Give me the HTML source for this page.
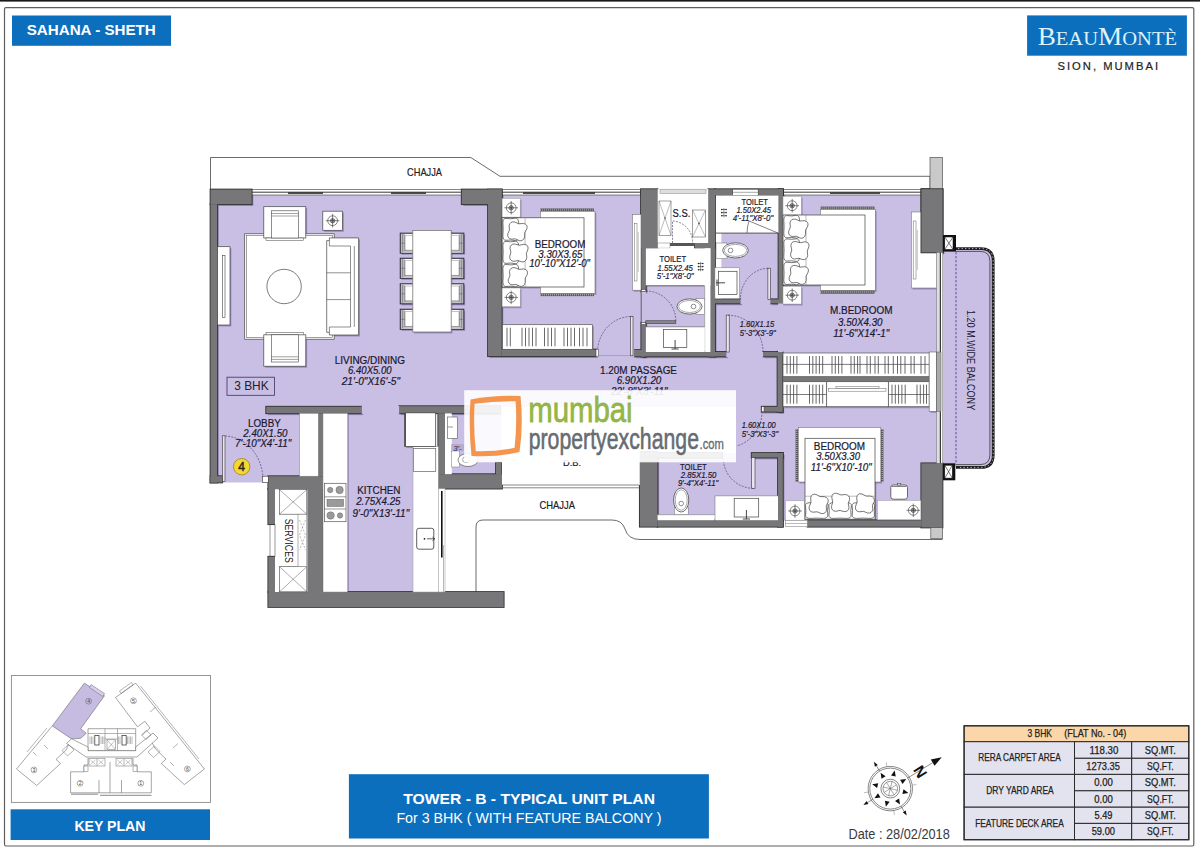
<!DOCTYPE html>
<html><head><meta charset="utf-8"><title>BeauMonte - Tower B Typical Unit Plan</title>
<style>
html,body{margin:0;padding:0;background:#fff}
body{width:1200px;height:852px;overflow:hidden}
svg{display:block}
text{font-family:"Liberation Sans",sans-serif;fill:#1b1830}
.i{font-style:italic}
.b{font-weight:bold}
.w{fill:#fff}
.k{fill:#222}
.serif{font-family:"Liberation Serif",serif}
</style></head><body>
<svg width="1200" height="852" viewBox="0 0 1200 852">
<defs><clipPath id="pc"><rect x="217.2" y="195.0" width="270.8" height="212.0"/><rect x="488.0" y="356.2" width="290.0" height="50.8"/><rect x="217.2" y="406.0" width="82.8" height="76.5"/><rect x="347.5" y="406.0" width="65.5" height="186.0"/><rect x="501.7" y="195.0" width="139.3" height="154.6"/><rect x="645.8" y="285.8" width="58.9" height="41.2"/><rect x="721.0" y="233.0" width="57.6" height="66.5"/><rect x="715.0" y="303.3" width="63.0" height="48.7"/><rect x="783.0" y="195.0" width="154.0" height="158.0"/><rect x="736.0" y="406.0" width="201.0" height="47.2"/><rect x="783.0" y="453.0" width="154.0" height="67.4"/><rect x="657.5" y="453.0" width="120.5" height="62.0"/><rect x="451.3" y="413.3" width="50.2" height="60.9"/><rect x="596.2" y="349.0" width="38.0" height="8.0"/><rect x="640.8" y="291.5" width="5.2" height="31.0"/><rect x="740.4" y="298.8" width="30.1" height="5.2"/><rect x="726.2" y="351.5" width="36.8" height="5.5"/><rect x="778.0" y="303.4" width="5.5" height="48.6"/><rect x="361.7" y="406.0" width="37.5" height="8.0"/><path d="M942.7 250 H981 Q992 250 992 261 V455 Q992 466 981 466 H942.7 Z"/></clipPath><filter id="bl" x="-5%" y="-5%" width="110%" height="110%"><feGaussianBlur stdDeviation="0.7"/></filter></defs>
<rect x="0.0" y="0.0" width="1200.0" height="852.0" fill="#fff" />
<rect x="0.0" y="0.0" width="1200.0" height="1.6" fill="#1a1a1a" />
<rect x="4.5" y="7.7" width="1189.3" height="838.3" fill="none" stroke="#5e5e5e" stroke-width="1.2" rx="1.5"/>
<rect x="12.0" y="15.5" width="159.0" height="30.3" fill="#0C6FBE" />
<text x="26.7" y="35.3" font-size="15" textLength="129.1" lengthAdjust="spacingAndGlyphs" class="b w" >SAHANA - SHETH</text>
<rect x="1027.1" y="15.4" width="159.8" height="40.3" fill="#0C6FBE" />
<text x="1037.7" y="44.6" class="serif" style="fill:#DDF2FB" textLength="139.3" lengthAdjust="spacingAndGlyphs"><tspan font-size="24.5">B</tspan><tspan font-size="18.5">EAU</tspan><tspan font-size="24.5">M</tspan><tspan font-size="18.5">ONTÈ</tspan></text>
<text x="1057.5" y="69.7" font-size="11.2" textLength="100.5" lengthAdjust="spacing" class="k" stroke="#222" stroke-width="0.2">SION, MUMBAI</text>
<path d="M210.5 189.5 V157.5 H470.8 L500 176.3 H930 V189.5" fill="#fff" stroke="#444" stroke-width="0.8" />
<path d="M503.7 592 H476 V527 Q476 520 483 520 H612 Q622 520 625 529 Q628 539.5 640 539.5 H942.5 V527 H639 V485 H503.7 Z" fill="#fff" stroke="none" stroke-width="0" />
<path d="M476 592 V527 Q476 520 483 520 H612 Q622 520 625 529 Q628 539.5 640 539.5 H942.5" fill="none" stroke="#444" stroke-width="0.8" />
<rect x="217.2" y="195.0" width="270.8" height="212.0" fill="#C9BFE4" />
<rect x="488.0" y="356.2" width="290.0" height="50.8" fill="#C9BFE4" />
<rect x="217.2" y="406.0" width="82.8" height="76.5" fill="#C9BFE4" />
<rect x="347.5" y="406.0" width="65.5" height="186.0" fill="#C9BFE4" />
<rect x="501.7" y="195.0" width="139.3" height="154.6" fill="#C9BFE4" />
<rect x="645.8" y="285.8" width="58.9" height="41.2" fill="#C9BFE4" />
<rect x="721.0" y="233.0" width="57.6" height="66.5" fill="#C9BFE4" />
<rect x="715.0" y="303.3" width="63.0" height="48.7" fill="#C9BFE4" />
<rect x="783.0" y="195.0" width="154.0" height="158.0" fill="#C9BFE4" />
<rect x="736.0" y="406.0" width="201.0" height="47.2" fill="#C9BFE4" />
<rect x="783.0" y="453.0" width="154.0" height="67.4" fill="#C9BFE4" />
<rect x="657.5" y="453.0" width="120.5" height="62.0" fill="#C9BFE4" />
<rect x="451.3" y="413.3" width="50.2" height="60.9" fill="#C9BFE4" />
<path d="M942.7 250 H981 Q992 250 992 261 V455 Q992 466 981 466 H942.7 Z" fill="#C9BFE4" stroke="none" stroke-width="0" />
<g clip-path="url(#pc)"><g filter="url(#bl)" fill="#2e1f5c" fill-opacity="0.33"><rect x="212.1" y="191.3" width="41.2" height="14.7"/><rect x="212.1" y="206.0" width="6.7" height="278.3"/><rect x="212.1" y="478.0" width="11.5" height="6.3"/><rect x="463.3" y="191.3" width="40.0" height="14.7"/><rect x="489.6" y="191.3" width="13.7" height="166.7"/><rect x="503.3" y="351.3" width="94.5" height="6.7"/><rect x="635.8" y="351.8" width="10.8" height="6.4"/><rect x="642.6" y="353.7" width="85.2" height="4.5"/><rect x="642.9" y="249.8" width="4.5" height="43.5"/><rect x="642.9" y="324.3" width="4.5" height="33.9"/><rect x="642.6" y="191.0" width="16.6" height="58.9"/><rect x="709.9" y="191.0" width="6.7" height="167.2"/><rect x="696.6" y="244.7" width="20.0" height="5.2"/><rect x="716.6" y="191.0" width="68.0" height="6.3"/><rect x="780.1" y="191.0" width="4.5" height="114.2"/><rect x="716.5" y="301.1" width="25.5" height="4.1"/><rect x="772.1" y="301.1" width="12.0" height="4.1"/><rect x="764.6" y="353.8" width="19.5" height="4.4"/><rect x="779.1" y="353.5" width="5.0" height="60.0"/><rect x="763.3" y="408.5" width="20.8" height="5.0"/><rect x="784.6" y="378.5" width="146.2" height="5.0"/><rect x="923.0" y="191.0" width="21.2" height="63.2"/><rect x="922.9" y="465.1" width="21.2" height="64.2"/><rect x="809.1" y="522.1" width="113.8" height="6.4"/><rect x="641.4" y="453.8" width="17.7" height="74.7"/><rect x="659.1" y="522.1" width="125.3" height="6.4"/><rect x="779.6" y="454.8" width="4.8" height="73.7"/><rect x="753.3" y="454.8" width="31.1" height="4.5"/><rect x="659.1" y="454.8" width="64.5" height="4.5"/><rect x="267.8" y="408.5" width="95.5" height="6.6"/><rect x="400.8" y="408.0" width="100.8" height="7.1"/><rect x="319.9" y="415.1" width="4.7" height="62.9"/><rect x="269.9" y="478.0" width="55.0" height="13.0"/><rect x="309.1" y="490.8" width="15.3" height="103.0"/><rect x="269.9" y="490.8" width="6.7" height="35.2"/><rect x="269.9" y="558.5" width="6.7" height="35.3"/><rect x="269.9" y="593.8" width="235.4" height="15.0"/><rect x="439.9" y="415.1" width="6.7" height="61.2"/><rect x="439.9" y="476.0" width="63.7" height="14.4"/><rect x="497.6" y="464.3" width="5.5" height="12.0"/><rect x="218.8" y="248.2" width="12.5" height="78.3"/><rect x="265.1" y="208.2" width="42.0" height="31.3"/><rect x="267.3" y="239.5" width="37.5" height="2.3"/><rect x="265.1" y="336.3" width="42.0" height="31.4"/><rect x="267.3" y="334.0" width="37.5" height="2.3"/><rect x="328.0" y="239.5" width="31.9" height="97.0"/><rect x="324.1" y="212.7" width="19.7" height="19.1"/><rect x="401.6" y="234.7" width="13.7" height="20.0"/><rect x="451.3" y="234.7" width="13.8" height="20.0"/><rect x="401.6" y="259.8" width="13.7" height="20.0"/><rect x="451.3" y="259.8" width="13.8" height="20.0"/><rect x="401.6" y="285.3" width="13.7" height="20.0"/><rect x="451.3" y="285.3" width="13.8" height="20.0"/><rect x="401.6" y="310.8" width="13.7" height="20.0"/><rect x="451.3" y="310.8" width="13.8" height="20.0"/><rect x="414.1" y="231.9" width="38.4" height="101.6"/><rect x="301.0" y="414.8" width="18.6" height="62.9"/><rect x="324.3" y="414.8" width="24.5" height="178.7"/><rect x="406.1" y="414.3" width="30.9" height="33.8"/><rect x="541.7" y="212.8" width="54.6" height="82.0"/><rect x="503.4" y="199.9" width="18.1" height="18.7"/><rect x="503.4" y="289.5" width="18.1" height="18.7"/><rect x="503.4" y="219.3" width="81.9" height="69.2"/><rect x="633.8" y="216.0" width="8.5" height="75.7"/><rect x="503.8" y="326.2" width="90.0" height="24.6"/><rect x="821.8" y="211.0" width="54.8" height="80.8"/><rect x="784.3" y="197.8" width="18.3" height="18.7"/><rect x="784.3" y="287.8" width="18.3" height="17.7"/><rect x="784.3" y="216.5" width="82.0" height="70.0"/><rect x="912.6" y="213.5" width="25.7" height="76.0"/><rect x="923.0" y="191.0" width="21.2" height="63.2"/><rect x="799.6" y="429.0" width="82.5" height="54.5"/><rect x="786.8" y="502.3" width="19.3" height="19.4"/><rect x="878.8" y="502.0" width="43.4" height="19.3"/><rect x="806.3" y="439.8" width="70.0" height="80.9"/><rect x="784.3" y="354.5" width="146.2" height="23.7"/><rect x="784.3" y="383.2" width="43.7" height="25.0"/><rect x="889.6" y="383.2" width="40.9" height="25.0"/><rect x="828.0" y="383.2" width="61.6" height="25.0"/><rect x="930.5" y="353.5" width="7.5" height="59.3"/></g></g>
<rect x="251.7" y="189.5" width="210.0" height="5.5" fill="#fff" stroke="#333" stroke-width="0.6" />
<line x1="251.7" y1="192.2" x2="461.7" y2="192.2" stroke="#222" stroke-width="0.9" />
<rect x="501.7" y="189.5" width="139.3" height="5.5" fill="#fff" stroke="#333" stroke-width="0.6" />
<line x1="501.7" y1="192.2" x2="641.0" y2="192.2" stroke="#222" stroke-width="0.9" />
<rect x="783.0" y="189.5" width="138.4" height="5.5" fill="#fff" stroke="#333" stroke-width="0.6" />
<line x1="783.0" y1="192.2" x2="921.4" y2="192.2" stroke="#222" stroke-width="0.9" />
<line x1="288.0" y1="193.2" x2="323.0" y2="193.2" stroke="#111" stroke-width="1.3" />
<line x1="391.0" y1="193.2" x2="426.0" y2="193.2" stroke="#111" stroke-width="1.3" />
<line x1="523.0" y1="193.2" x2="595.0" y2="193.2" stroke="#111" stroke-width="1.3" />
<line x1="830.0" y1="193.2" x2="880.0" y2="193.2" stroke="#111" stroke-width="1.3" />
<rect x="210.5" y="189.5" width="41.2" height="14.7" fill="#777779" stroke="#2e2e2e" stroke-width="1.7" />
<rect x="210.5" y="204.2" width="6.7" height="278.3" fill="#777779" stroke="#2e2e2e" stroke-width="1.7" />
<rect x="210.5" y="476.2" width="11.5" height="6.3" fill="#777779" stroke="#2e2e2e" stroke-width="1.7" />
<rect x="461.7" y="189.5" width="40.0" height="14.7" fill="#777779" stroke="#2e2e2e" stroke-width="1.7" />
<rect x="488.0" y="189.5" width="13.7" height="166.7" fill="#777779" stroke="#2e2e2e" stroke-width="1.7" />
<rect x="501.7" y="349.5" width="94.5" height="6.7" fill="#777779" stroke="#2e2e2e" stroke-width="1.7" />
<rect x="634.2" y="350.0" width="10.8" height="6.4" fill="#777779" stroke="#2e2e2e" stroke-width="1.7" />
<rect x="641.0" y="351.9" width="85.2" height="4.5" fill="#777779" stroke="#2e2e2e" stroke-width="1.7" />
<rect x="641.3" y="248.0" width="4.5" height="43.5" fill="#777779" stroke="#2e2e2e" stroke-width="1.7" />
<rect x="641.3" y="322.5" width="4.5" height="33.9" fill="#777779" stroke="#2e2e2e" stroke-width="1.7" />
<rect x="641.0" y="189.2" width="16.6" height="58.9" fill="#777779" stroke="#2e2e2e" stroke-width="1.7" />
<rect x="708.3" y="189.2" width="6.7" height="167.2" fill="#777779" stroke="#2e2e2e" stroke-width="1.7" />
<rect x="695.0" y="242.9" width="20.0" height="5.2" fill="#777779" stroke="#2e2e2e" stroke-width="1.7" />
<rect x="715.0" y="189.2" width="68.0" height="6.3" fill="#777779" stroke="#2e2e2e" stroke-width="1.7" />
<rect x="778.5" y="189.2" width="4.5" height="114.2" fill="#777779" stroke="#2e2e2e" stroke-width="1.7" />
<rect x="714.9" y="299.3" width="25.5" height="4.1" fill="#777779" stroke="#2e2e2e" stroke-width="1.7" />
<rect x="770.5" y="299.3" width="12.0" height="4.1" fill="#777779" stroke="#2e2e2e" stroke-width="1.7" />
<rect x="763.0" y="352.0" width="19.5" height="4.4" fill="#777779" stroke="#2e2e2e" stroke-width="1.7" />
<rect x="777.5" y="351.7" width="5.0" height="60.0" fill="#777779" stroke="#2e2e2e" stroke-width="1.7" />
<rect x="761.7" y="406.7" width="20.8" height="5.0" fill="#777779" stroke="#2e2e2e" stroke-width="1.7" />
<rect x="783.0" y="376.7" width="146.2" height="5.0" fill="#777779" stroke="#2e2e2e" stroke-width="1.7" />
<rect x="921.4" y="189.2" width="21.2" height="63.2" fill="#777779" stroke="#2e2e2e" stroke-width="1.7" />
<rect x="921.3" y="463.3" width="21.2" height="64.2" fill="#777779" stroke="#2e2e2e" stroke-width="1.7" />
<rect x="807.5" y="520.3" width="113.8" height="6.4" fill="#777779" stroke="#2e2e2e" stroke-width="1.7" />
<rect x="639.8" y="452.0" width="17.7" height="74.7" fill="#777779" stroke="#2e2e2e" stroke-width="1.7" />
<rect x="657.5" y="520.3" width="125.3" height="6.4" fill="#777779" stroke="#2e2e2e" stroke-width="1.7" />
<rect x="778.0" y="453.0" width="4.8" height="73.7" fill="#777779" stroke="#2e2e2e" stroke-width="1.7" />
<rect x="751.7" y="453.0" width="31.1" height="4.5" fill="#777779" stroke="#2e2e2e" stroke-width="1.7" />
<rect x="657.5" y="453.0" width="64.5" height="4.5" fill="#777779" stroke="#2e2e2e" stroke-width="1.7" />
<rect x="266.2" y="406.7" width="95.5" height="6.6" fill="#777779" stroke="#2e2e2e" stroke-width="1.7" />
<rect x="399.2" y="406.2" width="100.8" height="7.1" fill="#777779" stroke="#2e2e2e" stroke-width="1.7" />
<rect x="318.3" y="413.3" width="4.7" height="62.9" fill="#777779" stroke="#2e2e2e" stroke-width="1.7" />
<rect x="268.3" y="476.2" width="55.0" height="13.0" fill="#777779" stroke="#2e2e2e" stroke-width="1.7" />
<rect x="307.5" y="489.0" width="15.3" height="103.0" fill="#777779" stroke="#2e2e2e" stroke-width="1.7" />
<rect x="268.3" y="489.0" width="6.7" height="35.2" fill="#777779" stroke="#2e2e2e" stroke-width="1.7" />
<rect x="268.3" y="556.7" width="6.7" height="35.3" fill="#777779" stroke="#2e2e2e" stroke-width="1.7" />
<rect x="268.3" y="592.0" width="235.4" height="15.0" fill="#777779" stroke="#2e2e2e" stroke-width="1.7" />
<rect x="438.3" y="413.3" width="6.7" height="61.2" fill="#777779" stroke="#2e2e2e" stroke-width="1.7" />
<rect x="438.3" y="474.2" width="63.7" height="14.4" fill="#777779" stroke="#2e2e2e" stroke-width="1.7" />
<rect x="496.0" y="462.5" width="5.5" height="12.0" fill="#777779" stroke="#2e2e2e" stroke-width="1.7" />
<rect x="210.5" y="189.5" width="41.2" height="14.7" fill="#777779" />
<rect x="210.5" y="204.2" width="6.7" height="278.3" fill="#777779" />
<rect x="210.5" y="476.2" width="11.5" height="6.3" fill="#777779" />
<rect x="461.7" y="189.5" width="40.0" height="14.7" fill="#777779" />
<rect x="488.0" y="189.5" width="13.7" height="166.7" fill="#777779" />
<rect x="501.7" y="349.5" width="94.5" height="6.7" fill="#777779" />
<rect x="634.2" y="350.0" width="10.8" height="6.4" fill="#777779" />
<rect x="641.0" y="351.9" width="85.2" height="4.5" fill="#777779" />
<rect x="641.3" y="248.0" width="4.5" height="43.5" fill="#777779" />
<rect x="641.3" y="322.5" width="4.5" height="33.9" fill="#777779" />
<rect x="641.0" y="189.2" width="16.6" height="58.9" fill="#777779" />
<rect x="708.3" y="189.2" width="6.7" height="167.2" fill="#777779" />
<rect x="695.0" y="242.9" width="20.0" height="5.2" fill="#777779" />
<rect x="715.0" y="189.2" width="68.0" height="6.3" fill="#777779" />
<rect x="778.5" y="189.2" width="4.5" height="114.2" fill="#777779" />
<rect x="714.9" y="299.3" width="25.5" height="4.1" fill="#777779" />
<rect x="770.5" y="299.3" width="12.0" height="4.1" fill="#777779" />
<rect x="763.0" y="352.0" width="19.5" height="4.4" fill="#777779" />
<rect x="777.5" y="351.7" width="5.0" height="60.0" fill="#777779" />
<rect x="761.7" y="406.7" width="20.8" height="5.0" fill="#777779" />
<rect x="783.0" y="376.7" width="146.2" height="5.0" fill="#777779" />
<rect x="921.4" y="189.2" width="21.2" height="63.2" fill="#777779" />
<rect x="921.3" y="463.3" width="21.2" height="64.2" fill="#777779" />
<rect x="807.5" y="520.3" width="113.8" height="6.4" fill="#777779" />
<rect x="639.8" y="452.0" width="17.7" height="74.7" fill="#777779" />
<rect x="657.5" y="520.3" width="125.3" height="6.4" fill="#777779" />
<rect x="778.0" y="453.0" width="4.8" height="73.7" fill="#777779" />
<rect x="751.7" y="453.0" width="31.1" height="4.5" fill="#777779" />
<rect x="657.5" y="453.0" width="64.5" height="4.5" fill="#777779" />
<rect x="266.2" y="406.7" width="95.5" height="6.6" fill="#777779" />
<rect x="399.2" y="406.2" width="100.8" height="7.1" fill="#777779" />
<rect x="318.3" y="413.3" width="4.7" height="62.9" fill="#777779" />
<rect x="268.3" y="476.2" width="55.0" height="13.0" fill="#777779" />
<rect x="307.5" y="489.0" width="15.3" height="103.0" fill="#777779" />
<rect x="268.3" y="489.0" width="6.7" height="35.2" fill="#777779" />
<rect x="268.3" y="556.7" width="6.7" height="35.3" fill="#777779" />
<rect x="268.3" y="592.0" width="235.4" height="15.0" fill="#777779" />
<rect x="438.3" y="413.3" width="6.7" height="61.2" fill="#777779" />
<rect x="438.3" y="474.2" width="63.7" height="14.4" fill="#777779" />
<rect x="496.0" y="462.5" width="5.5" height="12.0" fill="#777779" />
<rect x="732.7" y="189.2" width="25.5" height="6.3" fill="#fff" stroke="#333" stroke-width="0.6" />
<line x1="732.7" y1="192.3" x2="758.2" y2="192.3" stroke="#555" stroke-width="0.5" />
<rect x="930.0" y="157.4" width="12.6" height="31.8" fill="#C9C9C9" stroke="#555" stroke-width="0.7" />
<rect x="930.8" y="527.5" width="11.7" height="11.2" fill="#C9C9C9" stroke="#555" stroke-width="0.7" />
<rect x="596.2" y="349.0" width="38.0" height="8.0" fill="#C9BFE4" />
<rect x="640.8" y="291.5" width="5.2" height="31.0" fill="#C9BFE4" />
<rect x="740.4" y="298.8" width="30.1" height="5.2" fill="#C9BFE4" />
<rect x="726.2" y="351.5" width="36.8" height="5.5" fill="#C9BFE4" />
<rect x="778.0" y="303.4" width="5.5" height="48.6" fill="#C9BFE4" />
<rect x="361.7" y="406.0" width="37.5" height="8.0" fill="#C9BFE4" />
<rect x="217.5" y="246.7" width="12.5" height="78.3" fill="#fff" stroke="#444" stroke-width="0.7" />
<rect x="222.3" y="255.5" width="2.7" height="62.0" fill="#fff" stroke="#444" stroke-width="0.6" />
<rect x="244.7" y="233.8" width="89.5" height="105.4" fill="#fff" stroke="#444" stroke-width="0.7" />
<rect x="246.6" y="235.7" width="85.7" height="101.6" fill="none" stroke="#444" stroke-width="0.5" />
<circle cx="284.1" cy="286.5" r="17.2" fill="#fff" stroke="#444" stroke-width="0.7"/>
<rect x="263.8" y="206.7" width="42.0" height="31.3" fill="#fff" stroke="#444" stroke-width="0.7" />
<rect x="266.0" y="238.0" width="37.5" height="2.3" fill="#fff" stroke="#444" stroke-width="0.5" />
<rect x="271.3" y="210.8" width="27.0" height="27.2" fill="#fff" stroke="#444" stroke-width="0.6" />
<line x1="271.3" y1="213.5" x2="298.3" y2="213.5" stroke="#444" stroke-width="0.5" />
<line x1="271.3" y1="216.0" x2="298.3" y2="216.0" stroke="#444" stroke-width="0.5" />
<rect x="263.8" y="334.8" width="42.0" height="31.4" fill="#fff" stroke="#444" stroke-width="0.7" />
<rect x="266.0" y="332.5" width="37.5" height="2.3" fill="#fff" stroke="#444" stroke-width="0.5" />
<rect x="271.3" y="334.8" width="27.0" height="27.2" fill="#fff" stroke="#444" stroke-width="0.6" />
<line x1="271.3" y1="356.8" x2="298.3" y2="356.8" stroke="#444" stroke-width="0.5" />
<line x1="271.3" y1="359.4" x2="298.3" y2="359.4" stroke="#444" stroke-width="0.5" />
<path d="M326.7 240.6 H329.4 V237.9 H358.6 V335 H329.4 V332.3 H326.7 Z" fill="#fff" stroke="#444" stroke-width="0.7" />
<path d="M329.4 240.6 V246 H350.5 M329.4 332.3 V327 H350.5" fill="none" stroke="#444" stroke-width="0.6" />
<line x1="350.5" y1="246.0" x2="350.5" y2="327.0" stroke="#444" stroke-width="0.6" />
<line x1="354.3" y1="246.0" x2="354.3" y2="327.0" stroke="#444" stroke-width="0.6" />
<line x1="326.7" y1="272.8" x2="350.5" y2="272.8" stroke="#444" stroke-width="0.6" />
<line x1="326.7" y1="299.6" x2="350.5" y2="299.6" stroke="#444" stroke-width="0.6" />
<rect x="322.8" y="211.2" width="19.7" height="19.1" fill="#fff" stroke="#444" stroke-width="0.7" />
<circle cx="332.6" cy="220.7" r="4.9" fill="none" stroke="#333" stroke-width="0.6"/>
<circle cx="332.6" cy="220.7" r="2.2" fill="#c4c4c8" stroke="#333" stroke-width="0.6"/>
<line x1="325.8" y1="220.7" x2="339.4" y2="220.7" stroke="#333" stroke-width="0.6" />
<line x1="332.6" y1="213.9" x2="332.6" y2="227.5" stroke="#333" stroke-width="0.6" />
<circle cx="332.6" cy="220.7" r="0.9" fill="none" stroke="#333" stroke-width="0.5"/>
<rect x="400.3" y="233.2" width="13.7" height="20.0" fill="#fff" stroke="#33303f" stroke-width="1.1" />
<rect x="401.1" y="234.0" width="3.8" height="18.4" fill="#b9b9bd" />
<rect x="404.9" y="249.8" width="9.1" height="2.6" fill="#c4c4c8" />
<line x1="402.5" y1="234.2" x2="402.5" y2="252.2" stroke="#666" stroke-width="0.5" />
<line x1="404.9" y1="235.4" x2="404.9" y2="251.0" stroke="#555" stroke-width="0.6" />
<line x1="404.9" y1="235.4" x2="414.0" y2="235.4" stroke="#888" stroke-width="0.5" />
<line x1="404.9" y1="250.4" x2="414.0" y2="250.4" stroke="#777" stroke-width="0.5" />
<line x1="401.3" y1="243.2" x2="404.9" y2="243.2" stroke="#555" stroke-width="0.5" />
<rect x="450.0" y="233.2" width="13.8" height="20.0" fill="#fff" stroke="#33303f" stroke-width="1.1" />
<rect x="459.2" y="234.0" width="3.8" height="18.4" fill="#b9b9bd" />
<rect x="450.0" y="249.8" width="9.2" height="2.6" fill="#c4c4c8" />
<line x1="461.6" y1="234.2" x2="461.6" y2="252.2" stroke="#666" stroke-width="0.5" />
<line x1="459.2" y1="235.4" x2="459.2" y2="251.0" stroke="#555" stroke-width="0.6" />
<line x1="450.0" y1="235.4" x2="459.2" y2="235.4" stroke="#888" stroke-width="0.5" />
<line x1="450.0" y1="250.4" x2="459.2" y2="250.4" stroke="#777" stroke-width="0.5" />
<line x1="459.2" y1="243.2" x2="462.8" y2="243.2" stroke="#555" stroke-width="0.5" />
<rect x="400.3" y="258.3" width="13.7" height="20.0" fill="#fff" stroke="#33303f" stroke-width="1.1" />
<rect x="401.1" y="259.1" width="3.8" height="18.4" fill="#b9b9bd" />
<rect x="404.9" y="274.9" width="9.1" height="2.6" fill="#c4c4c8" />
<line x1="402.5" y1="259.3" x2="402.5" y2="277.3" stroke="#666" stroke-width="0.5" />
<line x1="404.9" y1="260.5" x2="404.9" y2="276.1" stroke="#555" stroke-width="0.6" />
<line x1="404.9" y1="260.5" x2="414.0" y2="260.5" stroke="#888" stroke-width="0.5" />
<line x1="404.9" y1="275.5" x2="414.0" y2="275.5" stroke="#777" stroke-width="0.5" />
<line x1="401.3" y1="268.3" x2="404.9" y2="268.3" stroke="#555" stroke-width="0.5" />
<rect x="450.0" y="258.3" width="13.8" height="20.0" fill="#fff" stroke="#33303f" stroke-width="1.1" />
<rect x="459.2" y="259.1" width="3.8" height="18.4" fill="#b9b9bd" />
<rect x="450.0" y="274.9" width="9.2" height="2.6" fill="#c4c4c8" />
<line x1="461.6" y1="259.3" x2="461.6" y2="277.3" stroke="#666" stroke-width="0.5" />
<line x1="459.2" y1="260.5" x2="459.2" y2="276.1" stroke="#555" stroke-width="0.6" />
<line x1="450.0" y1="260.5" x2="459.2" y2="260.5" stroke="#888" stroke-width="0.5" />
<line x1="450.0" y1="275.5" x2="459.2" y2="275.5" stroke="#777" stroke-width="0.5" />
<line x1="459.2" y1="268.3" x2="462.8" y2="268.3" stroke="#555" stroke-width="0.5" />
<rect x="400.3" y="283.8" width="13.7" height="20.0" fill="#fff" stroke="#33303f" stroke-width="1.1" />
<rect x="401.1" y="284.6" width="3.8" height="18.4" fill="#b9b9bd" />
<rect x="404.9" y="300.4" width="9.1" height="2.6" fill="#c4c4c8" />
<line x1="402.5" y1="284.8" x2="402.5" y2="302.8" stroke="#666" stroke-width="0.5" />
<line x1="404.9" y1="286.0" x2="404.9" y2="301.6" stroke="#555" stroke-width="0.6" />
<line x1="404.9" y1="286.0" x2="414.0" y2="286.0" stroke="#888" stroke-width="0.5" />
<line x1="404.9" y1="301.0" x2="414.0" y2="301.0" stroke="#777" stroke-width="0.5" />
<line x1="401.3" y1="293.8" x2="404.9" y2="293.8" stroke="#555" stroke-width="0.5" />
<rect x="450.0" y="283.8" width="13.8" height="20.0" fill="#fff" stroke="#33303f" stroke-width="1.1" />
<rect x="459.2" y="284.6" width="3.8" height="18.4" fill="#b9b9bd" />
<rect x="450.0" y="300.4" width="9.2" height="2.6" fill="#c4c4c8" />
<line x1="461.6" y1="284.8" x2="461.6" y2="302.8" stroke="#666" stroke-width="0.5" />
<line x1="459.2" y1="286.0" x2="459.2" y2="301.6" stroke="#555" stroke-width="0.6" />
<line x1="450.0" y1="286.0" x2="459.2" y2="286.0" stroke="#888" stroke-width="0.5" />
<line x1="450.0" y1="301.0" x2="459.2" y2="301.0" stroke="#777" stroke-width="0.5" />
<line x1="459.2" y1="293.8" x2="462.8" y2="293.8" stroke="#555" stroke-width="0.5" />
<rect x="400.3" y="309.3" width="13.7" height="20.0" fill="#fff" stroke="#33303f" stroke-width="1.1" />
<rect x="401.1" y="310.1" width="3.8" height="18.4" fill="#b9b9bd" />
<rect x="404.9" y="325.9" width="9.1" height="2.6" fill="#c4c4c8" />
<line x1="402.5" y1="310.3" x2="402.5" y2="328.3" stroke="#666" stroke-width="0.5" />
<line x1="404.9" y1="311.5" x2="404.9" y2="327.1" stroke="#555" stroke-width="0.6" />
<line x1="404.9" y1="311.5" x2="414.0" y2="311.5" stroke="#888" stroke-width="0.5" />
<line x1="404.9" y1="326.5" x2="414.0" y2="326.5" stroke="#777" stroke-width="0.5" />
<line x1="401.3" y1="319.3" x2="404.9" y2="319.3" stroke="#555" stroke-width="0.5" />
<rect x="450.0" y="309.3" width="13.8" height="20.0" fill="#fff" stroke="#33303f" stroke-width="1.1" />
<rect x="459.2" y="310.1" width="3.8" height="18.4" fill="#b9b9bd" />
<rect x="450.0" y="325.9" width="9.2" height="2.6" fill="#c4c4c8" />
<line x1="461.6" y1="310.3" x2="461.6" y2="328.3" stroke="#666" stroke-width="0.5" />
<line x1="459.2" y1="311.5" x2="459.2" y2="327.1" stroke="#555" stroke-width="0.6" />
<line x1="450.0" y1="311.5" x2="459.2" y2="311.5" stroke="#888" stroke-width="0.5" />
<line x1="450.0" y1="326.5" x2="459.2" y2="326.5" stroke="#777" stroke-width="0.5" />
<line x1="459.2" y1="319.3" x2="462.8" y2="319.3" stroke="#555" stroke-width="0.5" />
<rect x="412.8" y="230.4" width="38.4" height="101.6" fill="#fff" stroke="#777" stroke-width="0.8" />
<rect x="227.0" y="377.2" width="47.5" height="18.1" fill="none" stroke="#3a3360" stroke-width="0.8" />
<text x="234.2" y="390.2" font-size="12" textLength="34.5" lengthAdjust="spacingAndGlyphs" class="k" >3 BHK</text>
<rect x="299.7" y="413.3" width="18.6" height="62.9" fill="#fff" stroke="#888" stroke-width="0.5" />
<rect x="323.0" y="413.3" width="24.5" height="178.7" fill="#fff" stroke="#888" stroke-width="0.5" />
<rect x="222.5" y="435.8" width="2.5" height="45.9" fill="#e9e4f4" stroke="#333" stroke-width="0.6" />
<path d="M225 436 A 39 44 0 0 1 263 479" fill="none" stroke="#3a3360" stroke-width="0.6" stroke-dasharray="2 1.2"/>
<rect x="262.5" y="476.2" width="5.8" height="6.3" fill="#fff" stroke="#333" stroke-width="0.6" />
<circle cx="241.7" cy="466.7" r="8.2" fill="#F4D730" stroke="#8a7a20" stroke-width="0.7"/>
<text x="241.7" y="471" font-size="12" text-anchor="middle" class="k" stroke="#222" stroke-width="0.4">4</text>
<rect x="275.0" y="489.2" width="32.5" height="102.8" fill="#fff" />
<line x1="275.0" y1="524.2" x2="275.0" y2="556.7" stroke="#555" stroke-width="0.6" />
<line x1="270.0" y1="524.2" x2="270.0" y2="556.7" stroke="#555" stroke-width="0.6" />
<rect x="279.5" y="489.6" width="27.3" height="24.6" fill="#fff" stroke="#444" stroke-width="0.6" />
<line x1="279.5" y1="489.6" x2="306.8" y2="514.2" stroke="#555" stroke-width="0.48" />
<line x1="279.5" y1="514.2" x2="306.8" y2="489.6" stroke="#555" stroke-width="0.48" />
<rect x="279.5" y="566.7" width="27.3" height="25.1" fill="#fff" stroke="#444" stroke-width="0.6" />
<line x1="279.5" y1="566.7" x2="306.8" y2="591.8" stroke="#555" stroke-width="0.48" />
<line x1="279.5" y1="591.8" x2="306.8" y2="566.7" stroke="#555" stroke-width="0.48" />
<rect x="298.0" y="514.2" width="8.8" height="52.5" fill="#fff" stroke="#666" stroke-width="0.5" />
<path d="M299.5 520 L305.5 535 L299.5 550 M305.5 520 L299.5 535 L305.5 550" fill="none" stroke="#777" stroke-width="0.5" stroke-dasharray="2 1.5"/>
<text transform="translate(285.2,518.7) rotate(90)" font-size="10" textLength="44.1" lengthAdjust="spacingAndGlyphs" class="k">SERVICES</text>
<rect x="324.6" y="483.3" width="21.4" height="38.4" fill="#fff" stroke="#555" stroke-width="0.7" />
<line x1="324.6" y1="496.8" x2="346.0" y2="496.8" stroke="#555" stroke-width="0.6" />
<line x1="324.6" y1="509.0" x2="346.0" y2="509.0" stroke="#555" stroke-width="0.6" />
<circle cx="330.2" cy="490" r="2.7" fill="#9a9a9a" stroke="#666" stroke-width="0.5"/>
<circle cx="339.6" cy="490" r="3.7" fill="#9a9a9a" stroke="#666" stroke-width="0.5"/>
<circle cx="330.6" cy="515.5" r="3.7" fill="#9a9a9a" stroke="#666" stroke-width="0.5"/>
<circle cx="340" cy="515.5" r="2.7" fill="#9a9a9a" stroke="#666" stroke-width="0.5"/>
<rect x="327.0" y="499.3" width="16.6" height="7.2" fill="#9a9a9a" stroke="#666" stroke-width="0.5" />
<rect x="413.0" y="446.7" width="25.3" height="145.3" fill="#fff" stroke="#999" stroke-width="0.5" />
<rect x="404.8" y="412.8" width="30.9" height="33.8" fill="#fff" stroke="#444" stroke-width="0.8" />
<line x1="405.2" y1="413.0" x2="405.2" y2="446.4" stroke="#333" stroke-width="1.2" />
<rect x="413.4" y="448.5" width="22.3" height="22.9" fill="#fff" stroke="#777" stroke-width="0.8" />
<rect x="416.7" y="528.3" width="17.1" height="20.9" fill="#fff" stroke="#333" stroke-width="0.8" rx="2.2"/>
<circle cx="424.5" cy="538.8" r="0.9" fill="#222"/>
<path d="M427 538.8 H434.5 M432.5 537 L434.8 538.8 L432.5 540.6" fill="none" stroke="#222" stroke-width="0.7" />
<rect x="438.3" y="488.6" width="6.7" height="103.4" fill="#fff" stroke="#999" stroke-width="0.5" />
<line x1="441.8" y1="491.0" x2="441.8" y2="557.5" stroke="#111" stroke-width="1.6" />
<line x1="443.5" y1="545.0" x2="443.5" y2="592.0" stroke="#888" stroke-width="0.6" />
<rect x="445.0" y="413.3" width="6.7" height="60.9" fill="#fff" />
<rect x="447.5" y="417.0" width="10.0" height="21.3" fill="#fff" stroke="#555" stroke-width="0.6" />
<line x1="447.5" y1="427.0" x2="453.0" y2="427.0" stroke="#555" stroke-width="0.6" />
<rect x="451.3" y="451.0" width="8.2" height="16.0" fill="#fff" stroke="#777" stroke-width="0.5" />
<ellipse cx="468" cy="460" rx="10" ry="6.5" fill="#fff" stroke="#444" stroke-width="0.6"/><ellipse cx="466" cy="459.6" rx="3.4" ry="3" fill="none" stroke="#555" stroke-width="0.5"/>
<rect x="451.3" y="444.0" width="12.7" height="7.0" fill="#b5abd2" />
<text x="453.5" y="450.6" font-size="7.5" class="i">3'-</text>
<rect x="502.0" y="440.0" width="137.8" height="45.0" fill="#fff" />
<line x1="502.0" y1="485.0" x2="639.0" y2="485.0" stroke="#555" stroke-width="0.7" />
<line x1="502.0" y1="487.8" x2="639.0" y2="487.8" stroke="#555" stroke-width="0.7" />
<rect x="540.4" y="208.5" width="53.6" height="2.8" fill="#555" />
<path d="M540.4 209.9 H594.0" stroke="#ddd" stroke-width="1.4" stroke-dasharray="0.7 1.3" fill="none"/>
<rect x="540.4" y="293.3" width="53.6" height="2.8" fill="#555" />
<path d="M540.4 294.7 H594.0" stroke="#ddd" stroke-width="1.4" stroke-dasharray="0.7 1.3" fill="none"/>
<rect x="540.4" y="211.3" width="54.6" height="82.0" fill="#fff" stroke="#777" stroke-width="0.6" />
<rect x="502.1" y="198.4" width="18.1" height="18.7" fill="#fff" stroke="#999" stroke-width="0.5" />
<circle cx="511.2" cy="207.8" r="4.9" fill="none" stroke="#333" stroke-width="0.6"/>
<circle cx="511.2" cy="207.8" r="2.2" fill="#c4c4c8" stroke="#333" stroke-width="0.6"/>
<line x1="504.4" y1="207.8" x2="518.0" y2="207.8" stroke="#333" stroke-width="0.6" />
<line x1="511.2" y1="201.0" x2="511.2" y2="214.6" stroke="#333" stroke-width="0.6" />
<circle cx="511.2" cy="207.8" r="0.9" fill="none" stroke="#333" stroke-width="0.5"/>
<rect x="502.1" y="288.0" width="18.1" height="18.7" fill="#fff" stroke="#999" stroke-width="0.5" />
<circle cx="511.2" cy="297.4" r="4.9" fill="none" stroke="#333" stroke-width="0.6"/>
<circle cx="511.2" cy="297.4" r="2.2" fill="#c4c4c8" stroke="#333" stroke-width="0.6"/>
<line x1="504.4" y1="297.4" x2="518.0" y2="297.4" stroke="#333" stroke-width="0.6" />
<line x1="511.2" y1="290.6" x2="511.2" y2="304.2" stroke="#333" stroke-width="0.6" />
<circle cx="511.2" cy="297.4" r="0.9" fill="none" stroke="#333" stroke-width="0.5"/>
<rect x="502.1" y="217.8" width="81.9" height="69.2" fill="#fff" stroke="#444" stroke-width="0.7" />
<line x1="525.1" y1="217.8" x2="525.1" y2="287.0" stroke="#777" stroke-width="0.5" />
<path d="M502.9 222.8 Q503.5 229.3 502.9 235.9 Q502.9 240.3 506.0 240.3 Q510.8 239.6 515.5 240.6 Q518.6 240.7 518.6 236.2 Q518.0 229.4 518.6 222.7 Q518.6 218.2 515.5 218.2 Q510.8 219.2 506.0 218.4 Q502.9 218.4 502.9 222.8 Z" fill="#fff" stroke="#2f2f2f" stroke-width="0.65" stroke-linejoin="round"/>
<path d="M502.9 245.8 Q503.5 252.4 502.9 259.0 Q502.9 263.3 506.0 263.4 Q510.8 262.6 515.5 263.7 Q518.6 263.7 518.6 259.2 Q518.0 252.5 518.6 245.8 Q518.6 241.3 515.5 241.3 Q510.8 242.3 506.0 241.4 Q502.9 241.5 502.9 245.8 Z" fill="#fff" stroke="#2f2f2f" stroke-width="0.65" stroke-linejoin="round"/>
<path d="M502.9 268.9 Q503.5 275.5 502.9 282.0 Q502.9 286.4 506.0 286.5 Q510.8 285.7 515.5 286.7 Q518.6 286.8 518.6 282.3 Q518.0 275.6 518.6 268.8 Q518.6 264.3 515.5 264.4 Q510.8 265.3 506.0 264.5 Q502.9 264.5 502.9 268.9 Z" fill="#fff" stroke="#2f2f2f" stroke-width="0.65" stroke-linejoin="round"/>
<path d="M509.1 225.7 Q510.5 230.1 507.8 233.8 Q507.1 238.2 511.3 239.1 Q515.7 237.8 519.2 240.7 Q523.4 241.5 524.6 237.0 Q523.7 232.5 526.9 228.7 Q528.1 224.3 523.4 223.5 Q518.5 224.8 514.6 222.0 Q509.8 221.3 509.1 225.7 Z" fill="#fff" stroke="#2f2f2f" stroke-width="0.65" stroke-linejoin="round"/>
<path d="M510.0 248.3 Q511.9 252.5 509.7 256.5 Q509.5 260.9 513.8 261.3 Q518.0 259.5 521.8 261.9 Q526.1 262.3 526.8 257.6 Q525.3 253.3 528.0 249.1 Q528.7 244.5 523.9 244.3 Q519.2 246.3 514.9 244.0 Q510.1 243.8 510.0 248.3 Z" fill="#fff" stroke="#2f2f2f" stroke-width="0.65" stroke-linejoin="round"/>
<path d="M509.5 271.4 Q511.0 275.9 508.3 279.6 Q507.7 284.0 512.0 284.8 Q516.3 283.5 519.8 286.3 Q524.1 287.1 525.2 282.5 Q524.2 278.0 527.3 274.2 Q528.5 269.7 523.7 269.0 Q518.9 270.4 514.9 267.7 Q510.1 267.0 509.5 271.4 Z" fill="#fff" stroke="#2f2f2f" stroke-width="0.65" stroke-linejoin="round"/>
<rect x="632.5" y="214.5" width="8.5" height="75.7" fill="#fff" stroke="#777" stroke-width="0.6" />
<rect x="634.3" y="223.6" width="2.7" height="57.4" fill="#fff" stroke="#666" stroke-width="0.5" />
<line x1="638.2" y1="232.0" x2="638.2" y2="272.0" stroke="#888" stroke-width="0.5" />
<rect x="502.5" y="324.7" width="90.0" height="24.6" fill="#fff" stroke="#555" stroke-width="0.7" />
<line x1="507.0" y1="327.7" x2="507.0" y2="346.3" stroke="#444" stroke-width="0.8" />
<line x1="510.3" y1="327.7" x2="510.3" y2="346.3" stroke="#444" stroke-width="0.8" />
<line x1="522.0" y1="327.7" x2="522.0" y2="346.3" stroke="#444" stroke-width="0.8" />
<line x1="525.5" y1="327.7" x2="525.5" y2="346.3" stroke="#444" stroke-width="0.8" />
<line x1="529.0" y1="327.7" x2="529.0" y2="346.3" stroke="#444" stroke-width="0.8" />
<line x1="532.5" y1="327.7" x2="532.5" y2="346.3" stroke="#444" stroke-width="0.8" />
<line x1="536.0" y1="327.7" x2="536.0" y2="346.3" stroke="#444" stroke-width="0.8" />
<line x1="544.5" y1="327.7" x2="544.5" y2="346.3" stroke="#444" stroke-width="0.8" />
<line x1="548.0" y1="327.7" x2="548.0" y2="346.3" stroke="#444" stroke-width="0.8" />
<line x1="551.5" y1="327.7" x2="551.5" y2="346.3" stroke="#444" stroke-width="0.8" />
<line x1="555.0" y1="327.7" x2="555.0" y2="346.3" stroke="#444" stroke-width="0.8" />
<line x1="564.0" y1="327.7" x2="564.0" y2="346.3" stroke="#444" stroke-width="0.8" />
<line x1="567.5" y1="327.7" x2="567.5" y2="346.3" stroke="#444" stroke-width="0.8" />
<line x1="571.0" y1="327.7" x2="571.0" y2="346.3" stroke="#444" stroke-width="0.8" />
<line x1="574.5" y1="327.7" x2="574.5" y2="346.3" stroke="#444" stroke-width="0.8" />
<line x1="579.5" y1="327.7" x2="579.5" y2="346.3" stroke="#444" stroke-width="0.8" />
<line x1="583.0" y1="327.7" x2="583.0" y2="346.3" stroke="#444" stroke-width="0.8" />
<line x1="587.0" y1="327.7" x2="587.0" y2="346.3" stroke="#444" stroke-width="0.8" />
<rect x="630.5" y="316.3" width="2.5" height="39.5" fill="#e9e4f4" stroke="#333" stroke-width="0.6" />
<line x1="598.5" y1="355.6" x2="630.5" y2="355.6" stroke="#8d84b0" stroke-width="0.6" />
<path d="M630.5 316.5 A 34 36 0 0 0 597.5 351" fill="none" stroke="#3a3360" stroke-width="0.6" stroke-dasharray="2 1.2"/>
<rect x="596.0" y="349.5" width="2.5" height="6.7" fill="#fff" stroke="#333" stroke-width="0.5" />
<rect x="820.5" y="206.6" width="54.0" height="2.9" fill="#555" />
<path d="M820.5 208.0 H874.5" stroke="#ddd" stroke-width="1.4" stroke-dasharray="0.7 1.3" fill="none"/>
<rect x="820.5" y="290.3" width="54.0" height="3.4" fill="#555" />
<path d="M820.5 292.0 H874.5" stroke="#ddd" stroke-width="1.7" stroke-dasharray="0.7 1.3" fill="none"/>
<rect x="820.5" y="209.5" width="54.8" height="80.8" fill="#fff" stroke="#777" stroke-width="0.6" />
<rect x="783.0" y="196.3" width="18.3" height="18.7" fill="#fff" stroke="#999" stroke-width="0.5" />
<circle cx="792.2" cy="205.7" r="4.9" fill="none" stroke="#333" stroke-width="0.6"/>
<circle cx="792.2" cy="205.7" r="2.2" fill="#c4c4c8" stroke="#333" stroke-width="0.6"/>
<line x1="785.4" y1="205.7" x2="799.0" y2="205.7" stroke="#333" stroke-width="0.6" />
<line x1="792.2" y1="198.9" x2="792.2" y2="212.5" stroke="#333" stroke-width="0.6" />
<circle cx="792.2" cy="205.7" r="0.9" fill="none" stroke="#333" stroke-width="0.5"/>
<rect x="783.0" y="286.3" width="18.3" height="17.7" fill="#fff" stroke="#999" stroke-width="0.5" />
<circle cx="792.2" cy="295.2" r="4.9" fill="none" stroke="#333" stroke-width="0.6"/>
<circle cx="792.2" cy="295.2" r="2.2" fill="#c4c4c8" stroke="#333" stroke-width="0.6"/>
<line x1="785.4" y1="295.2" x2="799.0" y2="295.2" stroke="#333" stroke-width="0.6" />
<line x1="792.2" y1="288.4" x2="792.2" y2="302.0" stroke="#333" stroke-width="0.6" />
<circle cx="792.2" cy="295.2" r="0.9" fill="none" stroke="#333" stroke-width="0.5"/>
<rect x="783.0" y="215.0" width="82.0" height="70.0" fill="#fff" stroke="#444" stroke-width="0.7" />
<line x1="806.0" y1="215.0" x2="806.0" y2="285.0" stroke="#777" stroke-width="0.5" />
<path d="M783.8 220.0 Q784.4 226.7 783.8 233.3 Q783.8 237.7 786.9 237.8 Q791.6 237.0 796.4 238.1 Q799.5 238.1 799.5 233.6 Q798.9 226.8 799.5 219.9 Q799.5 215.4 796.4 215.4 Q791.6 216.4 786.9 215.6 Q783.8 215.6 783.8 220.0 Z" fill="#fff" stroke="#2f2f2f" stroke-width="0.65" stroke-linejoin="round"/>
<path d="M783.8 243.4 Q784.4 250.0 783.8 256.6 Q783.8 261.1 786.9 261.1 Q791.6 260.4 796.4 261.4 Q799.5 261.5 799.5 256.9 Q798.9 250.1 799.5 243.3 Q799.5 238.7 796.4 238.8 Q791.6 239.7 786.9 238.9 Q783.8 238.9 783.8 243.4 Z" fill="#fff" stroke="#2f2f2f" stroke-width="0.65" stroke-linejoin="round"/>
<path d="M783.8 266.7 Q784.4 273.3 783.8 280.0 Q783.8 284.4 786.9 284.5 Q791.6 283.7 796.4 284.7 Q799.5 284.8 799.5 280.3 Q798.9 273.4 799.5 266.6 Q799.5 262.1 796.4 262.1 Q791.6 263.1 786.9 262.2 Q783.8 262.3 783.8 266.7 Z" fill="#fff" stroke="#2f2f2f" stroke-width="0.65" stroke-linejoin="round"/>
<path d="M790.0 222.9 Q791.4 227.4 788.7 231.2 Q788.0 235.7 792.2 236.5 Q796.6 235.2 800.1 238.1 Q804.3 239.0 805.5 234.4 Q804.6 229.8 807.8 226.0 Q809.0 221.5 804.3 220.7 Q799.4 222.0 795.5 219.2 Q790.7 218.5 790.0 222.9 Z" fill="#fff" stroke="#2f2f2f" stroke-width="0.65" stroke-linejoin="round"/>
<path d="M790.9 245.8 Q792.8 250.1 790.6 254.1 Q790.4 258.7 794.7 259.0 Q798.9 257.2 802.7 259.6 Q807.0 260.0 807.7 255.3 Q806.2 250.9 808.9 246.7 Q809.6 242.0 804.7 241.8 Q800.1 243.8 795.8 241.5 Q791.0 241.3 790.9 245.8 Z" fill="#fff" stroke="#2f2f2f" stroke-width="0.65" stroke-linejoin="round"/>
<path d="M790.4 269.2 Q791.9 273.7 789.2 277.5 Q788.6 282.0 792.9 282.8 Q797.2 281.4 800.7 284.3 Q805.0 285.1 806.1 280.5 Q805.1 275.9 808.2 272.0 Q809.4 267.4 804.6 266.7 Q799.8 268.2 795.8 265.5 Q791.0 264.8 790.4 269.2 Z" fill="#fff" stroke="#2f2f2f" stroke-width="0.65" stroke-linejoin="round"/>
<rect x="911.3" y="212.0" width="25.7" height="76.0" fill="#fff" stroke="#777" stroke-width="0.6" />
<rect x="913.2" y="221.0" width="2.8" height="58.0" fill="#fff" stroke="#666" stroke-width="0.5" />
<line x1="917.3" y1="230.0" x2="917.3" y2="270.0" stroke="#888" stroke-width="0.5" />
<rect x="921.4" y="189.2" width="21.2" height="63.2" fill="#777779" stroke="#2e2e2e" stroke-width="1.7" />
<rect x="921.4" y="189.2" width="21.2" height="63.2" fill="#777779" />
<rect x="795.6" y="429.0" width="2.4" height="53.0" fill="#555" />
<path d="M796.8 429.0 V482.0" stroke="#ddd" stroke-width="1.2" stroke-dasharray="0.7 1.3" fill="none"/>
<rect x="881.0" y="429.0" width="2.4" height="53.0" fill="#555" />
<path d="M882.2 429.0 V482.0" stroke="#ddd" stroke-width="1.2" stroke-dasharray="0.7 1.3" fill="none"/>
<rect x="798.3" y="427.5" width="82.5" height="54.5" fill="#fff" stroke="#777" stroke-width="0.6" />
<rect x="785.5" y="500.8" width="19.3" height="19.4" fill="#fff" stroke="#999" stroke-width="0.5" />
<circle cx="795.0" cy="511.0" r="4.9" fill="none" stroke="#333" stroke-width="0.6"/>
<circle cx="795.0" cy="511.0" r="2.2" fill="#c4c4c8" stroke="#333" stroke-width="0.6"/>
<line x1="788.2" y1="511.0" x2="801.8" y2="511.0" stroke="#333" stroke-width="0.6" />
<line x1="795.0" y1="504.2" x2="795.0" y2="517.8" stroke="#333" stroke-width="0.6" />
<circle cx="795.0" cy="511.0" r="0.9" fill="none" stroke="#333" stroke-width="0.5"/>
<rect x="877.5" y="500.5" width="43.4" height="19.3" fill="#fff" stroke="#999" stroke-width="0.5" />
<circle cx="913.3" cy="510.3" r="4.9" fill="none" stroke="#333" stroke-width="0.6"/>
<circle cx="913.3" cy="510.3" r="2.2" fill="#c4c4c8" stroke="#333" stroke-width="0.6"/>
<line x1="906.5" y1="510.3" x2="920.1" y2="510.3" stroke="#333" stroke-width="0.6" />
<line x1="913.3" y1="503.5" x2="913.3" y2="517.1" stroke="#333" stroke-width="0.6" />
<circle cx="913.3" cy="510.3" r="0.9" fill="none" stroke="#333" stroke-width="0.5"/>
<rect x="805.0" y="438.3" width="70.0" height="80.9" fill="#fff" stroke="#444" stroke-width="0.7" />
<line x1="805.0" y1="496.2" x2="875.0" y2="496.2" stroke="#777" stroke-width="0.5" />
<path d="M810.0 518.4 Q816.7 517.8 823.3 518.4 Q827.7 518.4 827.8 515.3 Q827.0 510.6 828.1 505.8 Q828.1 502.7 823.6 502.7 Q816.8 503.3 809.9 502.7 Q805.4 502.7 805.4 505.8 Q806.4 510.6 805.6 515.3 Q805.6 518.4 810.0 518.4 Z" fill="#fff" stroke="#2f2f2f" stroke-width="0.65" stroke-linejoin="round"/>
<path d="M833.4 518.4 Q840.0 517.8 846.6 518.4 Q851.1 518.4 851.1 515.3 Q850.4 510.6 851.4 505.8 Q851.5 502.7 846.9 502.7 Q840.1 503.3 833.3 502.7 Q828.7 502.7 828.8 505.8 Q829.7 510.6 828.9 515.3 Q828.9 518.4 833.4 518.4 Z" fill="#fff" stroke="#2f2f2f" stroke-width="0.65" stroke-linejoin="round"/>
<path d="M856.7 518.4 Q863.3 517.8 870.0 518.4 Q874.4 518.4 874.5 515.3 Q873.7 510.6 874.7 505.8 Q874.8 502.7 870.3 502.7 Q863.4 503.3 856.6 502.7 Q852.1 502.7 852.1 505.8 Q853.1 510.6 852.2 515.3 Q852.3 518.4 856.7 518.4 Z" fill="#fff" stroke="#2f2f2f" stroke-width="0.65" stroke-linejoin="round"/>
<path d="M812.9 512.2 Q817.4 510.8 821.2 513.5 Q825.7 514.2 826.5 510.0 Q825.2 505.6 828.1 502.1 Q829.0 497.9 824.4 496.7 Q819.8 497.6 816.0 494.4 Q811.5 493.2 810.7 497.9 Q812.0 502.8 809.2 506.7 Q808.5 511.5 812.9 512.2 Z" fill="#fff" stroke="#2f2f2f" stroke-width="0.65" stroke-linejoin="round"/>
<path d="M835.8 511.3 Q840.1 509.4 844.1 511.6 Q848.7 511.8 849.0 507.5 Q847.2 503.3 849.6 499.5 Q850.0 495.2 845.3 494.5 Q840.9 496.0 836.7 493.3 Q832.0 492.6 831.8 497.5 Q833.8 502.1 831.5 506.4 Q831.3 511.2 835.8 511.3 Z" fill="#fff" stroke="#2f2f2f" stroke-width="0.65" stroke-linejoin="round"/>
<path d="M859.2 511.8 Q863.7 510.3 867.5 513.0 Q872.0 513.6 872.8 509.3 Q871.4 505.0 874.3 501.5 Q875.1 497.2 870.5 496.1 Q865.9 497.1 862.0 494.0 Q857.4 492.8 856.7 497.6 Q858.2 502.4 855.5 506.4 Q854.8 511.2 859.2 511.8 Z" fill="#fff" stroke="#2f2f2f" stroke-width="0.65" stroke-linejoin="round"/>
<rect x="890.8" y="485.0" width="16.7" height="14.2" fill="#fff" stroke="#333" stroke-width="0.7" rx="2.5"/>
<line x1="892.0" y1="486.5" x2="906.3" y2="486.5" stroke="#333" stroke-width="0.6" />
<rect x="897.5" y="483.4" width="3.3" height="1.6" fill="#fff" stroke="#333" stroke-width="0.5" />
<rect x="785.5" y="520.3" width="22.0" height="6.4" fill="#fff" stroke="#777" stroke-width="0.5" />
<line x1="785.5" y1="523.5" x2="807.5" y2="523.5" stroke="#777" stroke-width="0.5" />
<rect x="657.6" y="189.2" width="50.7" height="53.8" fill="#fff" />
<rect x="660.0" y="189.2" width="46.0" height="4.3" fill="#ddd" stroke="#888" stroke-width="0.5" />
<rect x="659.0" y="201.0" width="12.0" height="34.5" fill="#fff" stroke="#444" stroke-width="0.5" />
<line x1="659.0" y1="201.0" x2="671.0" y2="235.5" stroke="#555" stroke-width="0.4" />
<line x1="659.0" y1="235.5" x2="671.0" y2="201.0" stroke="#555" stroke-width="0.4" />
<rect x="692.5" y="210.0" width="13.0" height="27.0" fill="#fff" stroke="#444" stroke-width="0.5" />
<line x1="692.5" y1="210.0" x2="705.5" y2="237.0" stroke="#555" stroke-width="0.4" />
<line x1="692.5" y1="237.0" x2="705.5" y2="210.0" stroke="#555" stroke-width="0.4" />
<circle cx="665" cy="218" r="0.7" fill="#333"/><circle cx="699" cy="223.5" r="0.7" fill="#333"/>
<path d="M672.5 243 V221 A 21 21 0 0 1 692.5 243" fill="none" stroke="#3a3360" stroke-width="0.6" stroke-dasharray="2 1.2"/>
<rect x="657.6" y="243.0" width="12.4" height="5.1" fill="#fff" stroke="#777" stroke-width="0.5" />
<rect x="670.0" y="243.0" width="25.0" height="3.0" fill="#555" />
<rect x="645.8" y="248.3" width="64.6" height="37.5" fill="#fff" />
<line x1="645.8" y1="285.8" x2="704.7" y2="285.8" stroke="#333" stroke-width="0.8" />
<rect x="704.7" y="248.3" width="5.7" height="103.7" fill="#fff" />
<line x1="704.7" y1="285.8" x2="704.7" y2="352.0" stroke="#666" stroke-width="0.5" />
<rect x="645.8" y="326.8" width="58.9" height="25.2" fill="#fff" />
<line x1="645.8" y1="326.8" x2="704.7" y2="326.8" stroke="#555" stroke-width="0.6" />
<rect x="663.4" y="329.4" width="23.4" height="18.0" fill="#fff" stroke="#444" stroke-width="0.7" />
<line x1="675.1" y1="340.0" x2="675.1" y2="349.0" stroke="#333" stroke-width="0.9" />
<line x1="671.5" y1="349.0" x2="678.7" y2="349.0" stroke="#333" stroke-width="0.9" />
<rect x="696.0" y="298.6" width="8.7" height="15.8" fill="#fff" stroke="#666" stroke-width="0.5" />
<ellipse cx="689.5" cy="306.5" rx="12.5" ry="7.6" fill="#fff" stroke="#333" stroke-width="0.7"/>
<ellipse cx="689.5" cy="306.5" rx="10.9" ry="6.0" fill="none" stroke="#555" stroke-width="0.5"/>
<circle cx="693.5" cy="306.5" r="2.3" fill="#fff" stroke="#444" stroke-width="0.6"/>
<line x1="641.2" y1="291.5" x2="641.2" y2="322.5" stroke="#333" stroke-width="0.7" />
<rect x="641.3" y="289.5" width="4.5" height="2.0" fill="#fff" stroke="#333" stroke-width="0.5" />
<rect x="641.3" y="322.5" width="4.5" height="2.0" fill="#fff" stroke="#333" stroke-width="0.5" />
<rect x="645.8" y="320.8" width="30.0" height="2.6" fill="#8a8a8c" stroke="#333" stroke-width="0.6" />
<path d="M675.8 321 A 30 30 0 0 0 645.8 291" fill="none" stroke="#3a3360" stroke-width="0.6" stroke-dasharray="2 1.2"/>
<circle cx="698.5" cy="263.5" r="0.8" fill="#222"/><circle cx="702.8" cy="263.5" r="0.8" fill="#222"/>
<line x1="698.5" y1="263.5" x2="702.8" y2="263.5" stroke="#222" stroke-width="0.5" />
<circle cx="698.5" cy="266.6" r="0.8" fill="#222"/><circle cx="702.8" cy="266.6" r="0.8" fill="#222"/>
<line x1="698.5" y1="266.6" x2="702.8" y2="266.6" stroke="#222" stroke-width="0.5" />
<circle cx="698.5" cy="269.7" r="0.8" fill="#222"/><circle cx="702.8" cy="269.7" r="0.8" fill="#222"/>
<line x1="698.5" y1="269.7" x2="702.8" y2="269.7" stroke="#222" stroke-width="0.5" />
<line x1="700.6" y1="262.0" x2="700.6" y2="271.3" stroke="#222" stroke-width="0.5" />
<rect x="716.0" y="195.5" width="5.4" height="103.1" fill="#fff" />
<rect x="721.4" y="195.5" width="57.1" height="37.6" fill="#fff" />
<line x1="716.0" y1="233.1" x2="778.5" y2="233.1" stroke="#333" stroke-width="0.8" />
<path d="M747 233 Q747.2 226 749 221 L778 233" fill="none" stroke="#333" stroke-width="0.6" />
<circle cx="721.8" cy="209.5" r="0.8" fill="#222"/><circle cx="726.0999999999999" cy="209.5" r="0.8" fill="#222"/>
<line x1="721.8" y1="209.5" x2="726.1" y2="209.5" stroke="#222" stroke-width="0.5" />
<circle cx="721.8" cy="212.6" r="0.8" fill="#222"/><circle cx="726.0999999999999" cy="212.6" r="0.8" fill="#222"/>
<line x1="721.8" y1="212.6" x2="726.1" y2="212.6" stroke="#222" stroke-width="0.5" />
<circle cx="721.8" cy="215.7" r="0.8" fill="#222"/><circle cx="726.0999999999999" cy="215.7" r="0.8" fill="#222"/>
<line x1="721.8" y1="215.7" x2="726.1" y2="215.7" stroke="#222" stroke-width="0.5" />
<line x1="723.9" y1="208.0" x2="723.9" y2="217.3" stroke="#222" stroke-width="0.5" />
<rect x="716.0" y="243.0" width="11.0" height="15.6" fill="#fff" stroke="#666" stroke-width="0.5" />
<ellipse cx="735.5" cy="250.4" rx="12.8" ry="7.6" fill="#fff" stroke="#333" stroke-width="0.7"/>
<ellipse cx="735.5" cy="250.4" rx="11.200000000000001" ry="6.0" fill="none" stroke="#555" stroke-width="0.5"/>
<circle cx="730.5" cy="250.4" r="2.3" fill="#fff" stroke="#444" stroke-width="0.6"/>
<rect x="714.9" y="267.8" width="24.5" height="30.8" fill="#fff" stroke="#777" stroke-width="0.5" />
<rect x="718.6" y="271.3" width="18.4" height="23.1" fill="#fff" stroke="#444" stroke-width="0.7" />
<line x1="716.0" y1="282.8" x2="725.0" y2="282.8" stroke="#333" stroke-width="0.9" />
<line x1="717.0" y1="279.5" x2="717.0" y2="286.0" stroke="#333" stroke-width="0.9" />
<rect x="767.9" y="268.2" width="2.6" height="31.1" fill="#e9e4f4" stroke="#333" stroke-width="0.6" />
<path d="M768 268.3 A 28 31 0 0 0 740.4 299.3" fill="none" stroke="#3a3360" stroke-width="0.6" stroke-dasharray="2 1.2"/>
<rect x="726.2" y="315.1" width="3.0" height="36.9" fill="#e9e4f4" stroke="#333" stroke-width="0.6" />
<path d="M728 315.2 A 35 37 0 0 1 763 352" fill="none" stroke="#3a3360" stroke-width="0.6" stroke-dasharray="2 1.2"/>
<rect x="783.0" y="353.0" width="146.2" height="23.7" fill="#fff" stroke="#555" stroke-width="0.7" />
<line x1="787.0" y1="356.0" x2="787.0" y2="373.7" stroke="#444" stroke-width="0.8" />
<line x1="790.3" y1="356.0" x2="790.3" y2="373.7" stroke="#444" stroke-width="0.8" />
<line x1="793.6" y1="356.0" x2="793.6" y2="373.7" stroke="#444" stroke-width="0.8" />
<line x1="796.9" y1="356.0" x2="796.9" y2="373.7" stroke="#444" stroke-width="0.8" />
<line x1="809.5" y1="356.0" x2="809.5" y2="373.7" stroke="#444" stroke-width="0.8" />
<line x1="812.8" y1="356.0" x2="812.8" y2="373.7" stroke="#444" stroke-width="0.8" />
<line x1="816.1" y1="356.0" x2="816.1" y2="373.7" stroke="#444" stroke-width="0.8" />
<line x1="819.4" y1="356.0" x2="819.4" y2="373.7" stroke="#444" stroke-width="0.8" />
<line x1="822.7" y1="356.0" x2="822.7" y2="373.7" stroke="#444" stroke-width="0.8" />
<line x1="832.0" y1="356.0" x2="832.0" y2="373.7" stroke="#444" stroke-width="0.8" />
<line x1="835.3" y1="356.0" x2="835.3" y2="373.7" stroke="#444" stroke-width="0.8" />
<line x1="838.6" y1="356.0" x2="838.6" y2="373.7" stroke="#444" stroke-width="0.8" />
<line x1="841.9" y1="356.0" x2="841.9" y2="373.7" stroke="#444" stroke-width="0.8" />
<line x1="851.0" y1="356.0" x2="851.0" y2="373.7" stroke="#444" stroke-width="0.8" />
<line x1="854.3" y1="356.0" x2="854.3" y2="373.7" stroke="#444" stroke-width="0.8" />
<line x1="857.6" y1="356.0" x2="857.6" y2="373.7" stroke="#444" stroke-width="0.8" />
<line x1="860.0" y1="356.0" x2="860.0" y2="373.7" stroke="#444" stroke-width="0.8" />
<line x1="867.0" y1="356.0" x2="867.0" y2="373.7" stroke="#444" stroke-width="0.8" />
<line x1="870.3" y1="356.0" x2="870.3" y2="373.7" stroke="#444" stroke-width="0.8" />
<line x1="875.0" y1="356.0" x2="875.0" y2="373.7" stroke="#444" stroke-width="0.8" />
<line x1="878.3" y1="356.0" x2="878.3" y2="373.7" stroke="#444" stroke-width="0.8" />
<line x1="885.0" y1="356.0" x2="885.0" y2="373.7" stroke="#444" stroke-width="0.8" />
<line x1="888.3" y1="356.0" x2="888.3" y2="373.7" stroke="#444" stroke-width="0.8" />
<line x1="893.3" y1="356.0" x2="893.3" y2="373.7" stroke="#444" stroke-width="0.8" />
<line x1="897.5" y1="356.0" x2="897.5" y2="373.7" stroke="#444" stroke-width="0.8" />
<line x1="900.8" y1="356.0" x2="900.8" y2="373.7" stroke="#444" stroke-width="0.8" />
<line x1="905.0" y1="356.0" x2="905.0" y2="373.7" stroke="#444" stroke-width="0.8" />
<line x1="911.0" y1="356.0" x2="911.0" y2="373.7" stroke="#444" stroke-width="0.8" />
<line x1="914.2" y1="356.0" x2="914.2" y2="373.7" stroke="#444" stroke-width="0.8" />
<line x1="921.0" y1="356.0" x2="921.0" y2="373.7" stroke="#444" stroke-width="0.8" />
<line x1="925.0" y1="356.0" x2="925.0" y2="373.7" stroke="#444" stroke-width="0.8" />
<line x1="783.0" y1="364.4" x2="929.2" y2="364.4" stroke="#444" stroke-width="0.7" />
<rect x="783.0" y="381.7" width="43.7" height="25.0" fill="#fff" stroke="#555" stroke-width="0.7" />
<line x1="787.0" y1="384.7" x2="787.0" y2="403.7" stroke="#444" stroke-width="0.8" />
<line x1="790.3" y1="384.7" x2="790.3" y2="403.7" stroke="#444" stroke-width="0.8" />
<line x1="793.6" y1="384.7" x2="793.6" y2="403.7" stroke="#444" stroke-width="0.8" />
<line x1="796.9" y1="384.7" x2="796.9" y2="403.7" stroke="#444" stroke-width="0.8" />
<line x1="809.5" y1="384.7" x2="809.5" y2="403.7" stroke="#444" stroke-width="0.8" />
<line x1="812.8" y1="384.7" x2="812.8" y2="403.7" stroke="#444" stroke-width="0.8" />
<line x1="816.1" y1="384.7" x2="816.1" y2="403.7" stroke="#444" stroke-width="0.8" />
<line x1="819.4" y1="384.7" x2="819.4" y2="403.7" stroke="#444" stroke-width="0.8" />
<line x1="822.7" y1="384.7" x2="822.7" y2="403.7" stroke="#444" stroke-width="0.8" />
<line x1="783.0" y1="394.5" x2="826.7" y2="394.5" stroke="#444" stroke-width="0.7" />
<rect x="888.3" y="381.7" width="40.9" height="25.0" fill="#fff" stroke="#555" stroke-width="0.7" />
<line x1="892.0" y1="384.7" x2="892.0" y2="403.7" stroke="#444" stroke-width="0.8" />
<line x1="895.3" y1="384.7" x2="895.3" y2="403.7" stroke="#444" stroke-width="0.8" />
<line x1="898.6" y1="384.7" x2="898.6" y2="403.7" stroke="#444" stroke-width="0.8" />
<line x1="901.9" y1="384.7" x2="901.9" y2="403.7" stroke="#444" stroke-width="0.8" />
<line x1="905.2" y1="384.7" x2="905.2" y2="403.7" stroke="#444" stroke-width="0.8" />
<line x1="917.0" y1="384.7" x2="917.0" y2="403.7" stroke="#444" stroke-width="0.8" />
<line x1="920.3" y1="384.7" x2="920.3" y2="403.7" stroke="#444" stroke-width="0.8" />
<line x1="923.6" y1="384.7" x2="923.6" y2="403.7" stroke="#444" stroke-width="0.8" />
<line x1="926.5" y1="384.7" x2="926.5" y2="403.7" stroke="#444" stroke-width="0.8" />
<line x1="888.3" y1="394.5" x2="929.2" y2="394.5" stroke="#444" stroke-width="0.7" />
<rect x="826.7" y="381.7" width="61.6" height="25.0" fill="#fff" stroke="#555" stroke-width="0.7" />
<rect x="828.5" y="388.3" width="57.5" height="2.9" fill="#fff" stroke="#666" stroke-width="0.5" />
<rect x="836.0" y="386.3" width="43.0" height="2.0" fill="#fff" stroke="#666" stroke-width="0.5" />
<rect x="929.2" y="352.0" width="7.5" height="59.3" fill="#fff" stroke="#666" stroke-width="0.6" />
<rect x="936.7" y="252.4" width="5.9" height="210.9" fill="#fff" stroke="#666" stroke-width="0.5" />
<line x1="940.3" y1="252.4" x2="940.3" y2="352.0" stroke="#222" stroke-width="1.2" />
<line x1="940.3" y1="411.3" x2="940.3" y2="463.3" stroke="#222" stroke-width="1.2" />
<line x1="938.0" y1="252.4" x2="938.0" y2="463.3" stroke="#777" stroke-width="0.5" />
<rect x="936.7" y="352.0" width="4.3" height="59.3" fill="#aaa" stroke="#555" stroke-width="0.5" />
<path d="M956 251.4 H980 Q989.9 251.4 989.9 261.4 V454.6 Q989.9 464.6 980 464.6 H956" fill="none" stroke="#222" stroke-width="0.7" />
<path d="M956 248.6 H981 Q993.2 248.6 993.2 260.8 V455.2 Q993.2 467.4 981 467.4 H956" fill="none" stroke="#1e1e1e" stroke-width="2.8" />
<path d="M958 248.6 H981 Q993.2 248.6 993.2 260.8 V455.2 Q993.2 467.4 981 467.4 H958" fill="none" stroke="#e8e8e8" stroke-width="0.8" stroke-dasharray="1.3 2.2"/>
<line x1="956.0" y1="252.0" x2="956.0" y2="464.5" stroke="#54468f" stroke-width="0.9" stroke-dasharray="2.4 1.6"/>
<rect x="943.0" y="235.0" width="13.0" height="16.6" fill="#111" />
<rect x="944.8" y="237.0" width="8.2" height="12.4" fill="#fff" stroke="#111" stroke-width="0.5" />
<line x1="944.8" y1="237.0" x2="953.0" y2="249.4" stroke="#222" stroke-width="0.6" />
<line x1="944.8" y1="249.4" x2="953.0" y2="237.0" stroke="#222" stroke-width="0.6" />
<rect x="943.0" y="463.3" width="12.3" height="17.0" fill="#111" />
<rect x="944.8" y="465.3" width="7.5" height="12.8" fill="#fff" stroke="#111" stroke-width="0.5" />
<line x1="944.8" y1="465.3" x2="952.3" y2="478.1" stroke="#222" stroke-width="0.6" />
<line x1="944.8" y1="478.1" x2="952.3" y2="465.3" stroke="#222" stroke-width="0.6" />
<text transform="translate(966.5,309.9) rotate(90)" font-size="10" textLength="100.4" lengthAdjust="spacingAndGlyphs">1.20 M.WIDE BALCONY</text>
<rect x="657.5" y="514.7" width="57.0" height="5.6" fill="#fff" />
<line x1="657.5" y1="514.7" x2="714.5" y2="514.7" stroke="#666" stroke-width="0.5" />
<rect x="715.0" y="495.8" width="63.0" height="24.5" fill="#fff" />
<path d="M715 520.3 V495.8 H778" fill="none" stroke="#666" stroke-width="0.5" />
<rect x="734.2" y="498.3" width="24.5" height="18.7" fill="#fff" stroke="#444" stroke-width="0.7" />
<line x1="746.4" y1="510.0" x2="746.4" y2="519.0" stroke="#333" stroke-width="0.9" />
<line x1="742.8" y1="519.0" x2="750.0" y2="519.0" stroke="#333" stroke-width="0.9" />
<rect x="674.3" y="507.0" width="13.9" height="7.7" fill="#fff" stroke="#666" stroke-width="0.5" />
<ellipse cx="681.2" cy="500" rx="7.6" ry="12" fill="#fff" stroke="#333" stroke-width="0.7"/><ellipse cx="681.2" cy="500" rx="6" ry="10.2" fill="none" stroke="#555" stroke-width="0.5"/><circle cx="681.2" cy="503.5" r="2.3" fill="#fff" stroke="#444" stroke-width="0.6"/>
<rect x="751.7" y="457.5" width="3.3" height="30.8" fill="#e9e4f4" stroke="#333" stroke-width="0.6" />
<path d="M753 488.3 A 30 30 0 0 1 723.5 461" fill="none" stroke="#3a3360" stroke-width="0.6" stroke-dasharray="2 1.2"/>
<path d="M762 411.7 A 36 36 0 0 1 737 446" fill="none" stroke="#3a3360" stroke-width="0.6" stroke-dasharray="2 1.2"/>
<rect x="761.7" y="406.7" width="2.3" height="5.0" fill="#fff" stroke="#333" stroke-width="0.5" />
<text x="334.7" y="364.0" font-size="10.0" textLength="70.3" lengthAdjust="spacingAndGlyphs" stroke="#1b1830" stroke-width="0.2">LIVING/DINING</text>
<text x="348.0" y="374.0" font-size="10.0" textLength="43.7" lengthAdjust="spacingAndGlyphs" class="i" stroke="#1b1830" stroke-width="0.2">6.40X5.00</text>
<text x="341.7" y="385.2" font-size="10.0" textLength="58.3" lengthAdjust="spacingAndGlyphs" class="i" stroke="#1b1830" stroke-width="0.2">21'-0"X16'-5"</text>
<text x="248.0" y="426.5" font-size="10.0" textLength="32.8" lengthAdjust="spacingAndGlyphs" stroke="#1b1830" stroke-width="0.2">LOBBY</text>
<text x="243.3" y="436.5" font-size="10.0" textLength="44.2" lengthAdjust="spacingAndGlyphs" class="i" stroke="#1b1830" stroke-width="0.2">2.40X1.50</text>
<text x="235.0" y="446.7" font-size="10.0" textLength="56.3" lengthAdjust="spacingAndGlyphs" class="i" stroke="#1b1830" stroke-width="0.2">7'-10"X4'-11"</text>
<text x="357.2" y="493.9" font-size="10.0" textLength="43.3" lengthAdjust="spacingAndGlyphs" stroke="#1b1830" stroke-width="0.2">KITCHEN</text>
<text x="356.2" y="505.2" font-size="10.0" textLength="44.3" lengthAdjust="spacingAndGlyphs" class="i" stroke="#1b1830" stroke-width="0.2">2.75X4.25</text>
<text x="352.5" y="517.2" font-size="10.0" textLength="56.7" lengthAdjust="spacingAndGlyphs" class="i" stroke="#1b1830" stroke-width="0.2">9'-0"X13'-11"</text>
<text x="534.7" y="248.2" font-size="10.0" textLength="50.6" lengthAdjust="spacingAndGlyphs" stroke="#1b1830" stroke-width="0.2">BEDROOM</text>
<text x="538.3" y="257.7" font-size="10.0" textLength="44.2" lengthAdjust="spacingAndGlyphs" class="i" stroke="#1b1830" stroke-width="0.2">3.30X3.65</text>
<text x="529.2" y="267.4" font-size="10.0" textLength="60.8" lengthAdjust="spacingAndGlyphs" class="i" stroke="#1b1830" stroke-width="0.2">10'-10"X12'-0"</text>
<text x="672.6" y="216.5" font-size="10.0" textLength="17.7" lengthAdjust="spacingAndGlyphs" stroke="#1b1830" stroke-width="0.2">S.S.</text>
<text x="741.4" y="204.5" font-size="8.8" textLength="26.6" lengthAdjust="spacingAndGlyphs" stroke="#1b1830" stroke-width="0.2">TOILET</text>
<text x="736.4" y="213.0" font-size="8.8" textLength="34.6" lengthAdjust="spacingAndGlyphs" class="i" stroke="#1b1830" stroke-width="0.2">1.50X2.45</text>
<text x="732.7" y="221.3" font-size="8.8" textLength="40.5" lengthAdjust="spacingAndGlyphs" class="i" stroke="#1b1830" stroke-width="0.2">4'-11"X8'-0"</text>
<text x="659.4" y="262.2" font-size="8.8" textLength="26.7" lengthAdjust="spacingAndGlyphs" stroke="#1b1830" stroke-width="0.2">TOILET</text>
<text x="657.6" y="271.2" font-size="8.8" textLength="35.3" lengthAdjust="spacingAndGlyphs" class="i" stroke="#1b1830" stroke-width="0.2">1.55X2.45</text>
<text x="656.8" y="279.1" font-size="8.8" textLength="36.8" lengthAdjust="spacingAndGlyphs" class="i" stroke="#1b1830" stroke-width="0.2">5'-1"X8'-0"</text>
<text x="739.7" y="327.0" font-size="8.8" textLength="34.5" lengthAdjust="spacingAndGlyphs" class="i" stroke="#1b1830" stroke-width="0.2">1.60X1.15</text>
<text x="739.7" y="336.4" font-size="8.8" textLength="36.0" lengthAdjust="spacingAndGlyphs" class="i" stroke="#1b1830" stroke-width="0.2">5'-3"X3'-9"</text>
<text x="830.0" y="313.9" font-size="10.0" textLength="62.5" lengthAdjust="spacingAndGlyphs" stroke="#1b1830" stroke-width="0.2">M.BEDROOM</text>
<text x="838.0" y="325.5" font-size="10.0" textLength="44.5" lengthAdjust="spacingAndGlyphs" class="i" stroke="#1b1830" stroke-width="0.2">3.50X4.30</text>
<text x="833.3" y="336.5" font-size="10.0" textLength="55.9" lengthAdjust="spacingAndGlyphs" class="i" stroke="#1b1830" stroke-width="0.2">11'-6"X14'-1"</text>
<text x="600.0" y="373.9" font-size="10.0" textLength="77.0" lengthAdjust="spacingAndGlyphs" stroke="#1b1830" stroke-width="0.2">1.20M PASSAGE</text>
<text x="616.7" y="384.4" font-size="10.0" textLength="44.6" lengthAdjust="spacingAndGlyphs" class="i" stroke="#1b1830" stroke-width="0.2">6.90X1.20</text>
<text x="611.0" y="395.0" font-size="10.0" textLength="56.5" lengthAdjust="spacingAndGlyphs" class="i" stroke="#1b1830" stroke-width="0.2">22'-8"X3'-11"</text>
<text x="741.7" y="427.7" font-size="8.8" textLength="34.1" lengthAdjust="spacingAndGlyphs" class="i" stroke="#1b1830" stroke-width="0.2">1.60X1.00</text>
<text x="741.7" y="436.5" font-size="8.8" textLength="36.6" lengthAdjust="spacingAndGlyphs" class="i" stroke="#1b1830" stroke-width="0.2">5'-3"X3'-3"</text>
<text x="680.0" y="469.9" font-size="8.8" textLength="26.7" lengthAdjust="spacingAndGlyphs" stroke="#1b1830" stroke-width="0.2">TOILET</text>
<text x="680.8" y="478.2" font-size="8.8" textLength="35.5" lengthAdjust="spacingAndGlyphs" class="i" stroke="#1b1830" stroke-width="0.2">2.85X1.50</text>
<text x="678.0" y="486.0" font-size="8.8" textLength="40.3" lengthAdjust="spacingAndGlyphs" class="i" stroke="#1b1830" stroke-width="0.2">9'-4"X4'-11"</text>
<text x="813.8" y="449.9" font-size="10.0" textLength="51.2" lengthAdjust="spacingAndGlyphs" stroke="#1b1830" stroke-width="0.2">BEDROOM</text>
<text x="816.3" y="459.9" font-size="10.0" textLength="43.7" lengthAdjust="spacingAndGlyphs" class="i" stroke="#1b1830" stroke-width="0.2">3.50X3.30</text>
<text x="810.8" y="471.0" font-size="10.0" textLength="60.9" lengthAdjust="spacingAndGlyphs" class="i" stroke="#1b1830" stroke-width="0.2">11'-6"X10'-10"</text>
<text x="407.0" y="175.5" font-size="11.5" textLength="35.0" lengthAdjust="spacingAndGlyphs" class="k" stroke="#1b1830" stroke-width="0.2">CHAJJA</text>
<text x="539.5" y="509.0" font-size="11.5" textLength="35.5" lengthAdjust="spacingAndGlyphs" class="k" stroke="#1b1830" stroke-width="0.2">CHAJJA</text>
<text x="563.0" y="465.7" font-size="8.8" textLength="18.0" lengthAdjust="spacingAndGlyphs" class="k" stroke="#1b1830" stroke-width="0.2">D.B.</text>
<rect x="464.2" y="390.2" width="271.8" height="72.1" fill="#fff" fill-opacity="0.9"/>
<path d="M470.5 399.5 Q495 395 520.5 396 Q523.5 426 519.5 452 Q496 457.5 471.5 456 Q468.5 428 470.5 399.5 Z M474.6 403.8 Q473.2 428 475.8 451.3 Q496 451.8 514.6 447.8 Q517.2 424 515.6 401.2 Q495 400.8 474.6 403.8 Z" fill="#F28C3E" stroke="none" stroke-width="0" fill-rule="evenodd" fill-opacity="0.92"/>
<text x="528.2" y="421.6" font-size="35" textLength="104.4" lengthAdjust="spacingAndGlyphs" style="fill:#8FB23C;fill-opacity:0.95;stroke:#8FB23C;stroke-width:0.8;stroke-opacity:0.9">mumbai</text>
<text x="528.7" y="448.9" font-size="29.5" textLength="170.3" lengthAdjust="spacingAndGlyphs" style="fill:#60656B;fill-opacity:0.95;stroke:#60656B;stroke-width:0.7;stroke-opacity:0.9">propertyexchange</text>
<text x="699.6" y="448.9" font-size="14.5" textLength="24.4" lengthAdjust="spacingAndGlyphs" style="fill:#60656B;fill-opacity:0.95;stroke:#60656B;stroke-width:0.35">.com</text>
<rect x="11.4" y="675.5" width="199.1" height="126.9" fill="#fff" stroke="#8a8a8a" stroke-width="0.9" />
<path d="M84.3 683.2 L104.5 695.7 L80.7 728.7 L86.2 733.3 L80.7 738.3 L71.5 738.8 L52.3 725.9 Z" fill="#C6BCE2" stroke="#6a6a6a" stroke-width="0.6" />
<path d="M91 684.5 L104.5 693.5 L102.8 696.5 L89.5 687.5 Z" fill="#D6CEEA" stroke="#6a6a6a" stroke-width="0.5" />
<path d="M52.3 725.9 L16.5 769 L36.7 785.5 L60.5 763.5 L56 759.5 L66 750 L71.5 738.8" fill="none" stroke="#6a6a6a" stroke-width="0.6" />
<path d="M27 752 L47 728 M44 745 L48 749 M33 752 L36.5 755.5" fill="none" stroke="#6a6a6a" stroke-width="0.5" />
<path d="M135.7 683.2 L115.5 697.5 L137.5 726.8 L144.8 721.3 L150 728 L142 735" fill="none" stroke="#6a6a6a" stroke-width="0.6" />
<path d="M119.5 691 L131.5 682.5 L133 684.8 L121 693.5 Z" fill="none" stroke="#6a6a6a" stroke-width="0.5" />
<path d="M135.7 683.2 L204.4 769 L184.3 784.6 L161.3 763.5 L166 759 L155.5 749 L150 739" fill="none" stroke="#6a6a6a" stroke-width="0.6" />
<path d="M140.5 686 L199 759 M150 712 L156 707 M173 748 L178 743.5 M170 762 L174 766" fill="none" stroke="#6a6a6a" stroke-width="0.5" />
<path d="M88 728.7 H135.7 V750.7 H88 Z" fill="#fff" stroke="#6a6a6a" stroke-width="0.6" />
<path d="M88 733.5 H135.7 M105 728.7 V750.7 M117.5 728.7 V750.7 M105 739 H117.5" fill="none" stroke="#6a6a6a" stroke-width="0.5" />
<rect x="94.8" y="735.5" width="4.2" height="9.5" fill="#fff" stroke="#444" stroke-width="0.8" />
<rect x="122.0" y="735.5" width="4.2" height="9.5" fill="#fff" stroke="#444" stroke-width="0.8" />
<line x1="90.0" y1="736.5" x2="90.0" y2="744.0" stroke="#777" stroke-width="0.5" />
<line x1="91.5" y1="736.5" x2="91.5" y2="744.0" stroke="#777" stroke-width="0.5" />
<line x1="93.0" y1="736.5" x2="93.0" y2="744.0" stroke="#777" stroke-width="0.5" />
<line x1="101.0" y1="736.5" x2="101.0" y2="744.0" stroke="#777" stroke-width="0.5" />
<line x1="102.5" y1="736.5" x2="102.5" y2="744.0" stroke="#777" stroke-width="0.5" />
<line x1="104.0" y1="736.5" x2="104.0" y2="744.0" stroke="#777" stroke-width="0.5" />
<line x1="118.5" y1="736.5" x2="118.5" y2="744.0" stroke="#777" stroke-width="0.5" />
<line x1="120.0" y1="736.5" x2="120.0" y2="744.0" stroke="#777" stroke-width="0.5" />
<line x1="127.5" y1="736.5" x2="127.5" y2="744.0" stroke="#777" stroke-width="0.5" />
<line x1="129.0" y1="736.5" x2="129.0" y2="744.0" stroke="#777" stroke-width="0.5" />
<line x1="130.5" y1="736.5" x2="130.5" y2="744.0" stroke="#777" stroke-width="0.5" />
<line x1="132.0" y1="736.5" x2="132.0" y2="744.0" stroke="#777" stroke-width="0.5" />
<rect x="107.0" y="739.8" width="8.5" height="9.7" fill="#fff" stroke="#6a6a6a" stroke-width="0.5" />
<line x1="107.0" y1="739.8" x2="115.5" y2="749.5" stroke="#6a6a6a" stroke-width="0.4" />
<line x1="107.0" y1="749.5" x2="115.5" y2="739.8" stroke="#6a6a6a" stroke-width="0.4" />
<path d="M71.5 738.8 L66.5 743.5 L86 757 H137 L158 738 L153 733 L135.7 747 V750.7 H88 V747 Z" fill="#fff" stroke="#6a6a6a" stroke-width="0.6" />
<path d="M62 750.5 L68.5 744.5 L74 750 L67.5 756 Z M148 752 L154.5 746 L160 751.5 L153.5 757.5 Z M141.5 735 L146.5 730.5 L151 735 L146 739.5 Z" fill="none" stroke="#6a6a6a" stroke-width="0.5" />
<rect x="89.0" y="758.5" width="16.0" height="7.5" fill="#fff" stroke="#6a6a6a" stroke-width="0.5" />
<line x1="97.0" y1="758.5" x2="97.0" y2="766.0" stroke="#6a6a6a" stroke-width="0.5" />
<rect x="116.0" y="758.5" width="16.0" height="7.5" fill="#fff" stroke="#6a6a6a" stroke-width="0.5" />
<line x1="124.0" y1="758.5" x2="124.0" y2="766.0" stroke="#6a6a6a" stroke-width="0.5" />
<path d="M90.5 760 L95.5 764.5 M95.5 760 L90.5 764.5 M98.5 760 L103.5 764.5 M103.5 760 L98.5 764.5 M117.5 760 L122.5 764.5 M122.5 760 L117.5 764.5 M125.5 760 L130.5 764.5 M130.5 760 L125.5 764.5" fill="none" stroke="#6a6a6a" stroke-width="0.4" />
<path d="M70.6 771.8 H84 V765 H88 V758 M70.6 771.8 V792.8 H151.3 V771.8 H137 V765 H133 V758 M110 762 V792.8 M99 780 V792.8 M121.5 780 V792.8" fill="none" stroke="#6a6a6a" stroke-width="0.6" />
<path d="M71 794.2 H98 M100 795.3 H151.5" fill="none" stroke="#6a6a6a" stroke-width="0.8" />
<rect x="84.0" y="766.0" width="4.0" height="5.5" fill="#fff" stroke="#6a6a6a" stroke-width="0.5" />
<rect x="133.0" y="766.0" width="4.0" height="5.5" fill="#fff" stroke="#6a6a6a" stroke-width="0.5" />
<circle cx="88.6" cy="701.2" r="2.9" fill="none" stroke="#555" stroke-width="0.5"/>
<text x="88.6" y="703.1" font-size="5.2" text-anchor="middle" style="fill:#444">4</text>
<circle cx="133.5" cy="700.8" r="2.9" fill="none" stroke="#555" stroke-width="0.5"/>
<text x="133.5" y="702.6999999999999" font-size="5.2" text-anchor="middle" style="fill:#444">5</text>
<circle cx="33.9" cy="769.9" r="2.9" fill="none" stroke="#555" stroke-width="0.5"/>
<text x="33.9" y="771.8" font-size="5.2" text-anchor="middle" style="fill:#444">3</text>
<circle cx="187.4" cy="769" r="2.9" fill="none" stroke="#555" stroke-width="0.5"/>
<text x="187.4" y="770.9" font-size="5.2" text-anchor="middle" style="fill:#444">6</text>
<circle cx="80.1" cy="783.3" r="2.9" fill="none" stroke="#555" stroke-width="0.5"/>
<text x="80.1" y="785.1999999999999" font-size="5.2" text-anchor="middle" style="fill:#444">2</text>
<circle cx="140.8" cy="783.3" r="2.9" fill="none" stroke="#555" stroke-width="0.5"/>
<text x="140.8" y="785.1999999999999" font-size="5.2" text-anchor="middle" style="fill:#444">1</text>
<rect x="10.6" y="809.3" width="199.4" height="30.7" fill="#0C6FBE" />
<text x="74.4" y="831.0" font-size="14.3" textLength="71.1" lengthAdjust="spacingAndGlyphs" class="b w" >KEY PLAN</text>
<rect x="348.9" y="774.2" width="360.0" height="64.3" fill="#0C6FBE" />
<text x="403.3" y="804.3" font-size="15.4" textLength="251.7" lengthAdjust="spacingAndGlyphs" class="b w" >TOWER - B - TYPICAL UNIT PLAN</text>
<text x="396.4" y="822.8" font-size="14.7" textLength="265.0" lengthAdjust="spacingAndGlyphs" class="w" >For 3 BHK ( WITH FEATURE BALCONY )</text>
<text x="848.5" y="839.2" font-size="14.7" textLength="101.3" lengthAdjust="spacingAndGlyphs" style="fill:#3a3a3a" >Date : 28/02/2018</text>
<circle cx="890.3" cy="788.6" r="22.2" fill="none" stroke="#555" stroke-width="0.7"/>
<circle cx="890.3" cy="788.6" r="20.5" fill="none" stroke="#555" stroke-width="0.7"/>
<circle cx="890.3" cy="788.6" r="9.4" fill="none" stroke="#555" stroke-width="0.7"/>
<circle cx="890.3" cy="788.6" r="7.3" fill="none" stroke="#555" stroke-width="0.6"/>
<line x1="890.3" y1="788.6" x2="896.5" y2="784.8" stroke="#555" stroke-width="0.5" />
<path d="M906.2 778.9 L902.6 783.9 L900.1 779.8 Z" fill="#111" stroke="none" stroke-width="0" />
<line x1="912.2" y1="785.2" x2="916.5" y2="784.5" stroke="#777" stroke-width="0.5" />
<line x1="890.3" y1="788.6" x2="897.4" y2="790.3" stroke="#555" stroke-width="0.5" />
<path d="M908.4 793.0 L902.4 794.0 L903.5 789.3 Z" fill="#111" stroke="none" stroke-width="0" />
<line x1="890.3" y1="788.6" x2="894.1" y2="794.8" stroke="#555" stroke-width="0.5" />
<path d="M900.0 804.5 L895.0 800.9 L899.1 798.4 Z" fill="#111" stroke="none" stroke-width="0" />
<line x1="893.7" y1="810.5" x2="894.4" y2="814.8" stroke="#777" stroke-width="0.5" />
<line x1="890.3" y1="788.6" x2="888.6" y2="795.7" stroke="#555" stroke-width="0.5" />
<path d="M885.9 806.7 L884.9 800.7 L889.6 801.8 Z" fill="#111" stroke="none" stroke-width="0" />
<line x1="890.3" y1="788.6" x2="884.1" y2="792.4" stroke="#555" stroke-width="0.5" />
<path d="M874.4 798.3 L878.0 793.3 L880.5 797.4 Z" fill="#111" stroke="none" stroke-width="0" />
<line x1="868.4" y1="792.0" x2="864.1" y2="792.7" stroke="#777" stroke-width="0.5" />
<line x1="890.3" y1="788.6" x2="883.2" y2="786.9" stroke="#555" stroke-width="0.5" />
<path d="M872.2 784.2 L878.2 783.2 L877.1 787.9 Z" fill="#111" stroke="none" stroke-width="0" />
<line x1="890.3" y1="788.6" x2="886.5" y2="782.4" stroke="#555" stroke-width="0.5" />
<path d="M880.6 772.7 L885.6 776.3 L881.5 778.8 Z" fill="#111" stroke="none" stroke-width="0" />
<line x1="886.9" y1="766.7" x2="886.2" y2="762.4" stroke="#777" stroke-width="0.5" />
<line x1="890.3" y1="788.6" x2="892.0" y2="781.5" stroke="#555" stroke-width="0.5" />
<path d="M894.7 770.5 L895.7 776.5 L891.0 775.4 Z" fill="#111" stroke="none" stroke-width="0" />
<line x1="907.8" y1="777.9" x2="932.7" y2="762.7" stroke="#444" stroke-width="0.6" />
<path d="M941.7 757.2 L934.6 765.8 L930.8 759.6 Z" fill="#111" stroke="none" stroke-width="0" />
<line x1="872.8" y1="799.3" x2="867.5" y2="802.5" stroke="#444" stroke-width="0.6" />
<path d="M863.4 805.0 L866.6 801.1 L868.4 804.0 Z" fill="#111" stroke="none" stroke-width="0" />
<line x1="879.6" y1="771.1" x2="876.4" y2="765.8" stroke="#444" stroke-width="0.6" />
<path d="M873.9 761.7 L877.8 764.9 L874.9 766.7 Z" fill="#111" stroke="none" stroke-width="0" />
<line x1="901.0" y1="806.1" x2="904.2" y2="811.4" stroke="#444" stroke-width="0.6" />
<path d="M906.7 815.5 L902.8 812.3 L905.7 810.5 Z" fill="#111" stroke="none" stroke-width="0" />
<text transform="translate(920.3,771.6) rotate(58.6)" font-size="15.5" text-anchor="middle" class="b" style="fill:#111" y="5.4">N</text>
<rect x="964.1" y="725.8" width="224.7" height="15.9" fill="#FBD6A9" stroke="#2a2a2a" stroke-width="1" />
<rect x="964.1" y="741.7" width="110.4" height="32.7" fill="#E3E3F0" stroke="#2a2a2a" stroke-width="1" />
<rect x="964.1" y="774.4" width="110.4" height="32.8" fill="#E3E3F0" stroke="#2a2a2a" stroke-width="1" />
<rect x="964.1" y="807.2" width="110.4" height="32.5" fill="#E3E3F0" stroke="#2a2a2a" stroke-width="1" />
<rect x="1074.5" y="741.7" width="57.2" height="16.6" fill="#E3E3F0" stroke="#2a2a2a" stroke-width="1" />
<rect x="1131.7" y="741.7" width="57.1" height="16.6" fill="#E3E3F0" stroke="#2a2a2a" stroke-width="1" />
<rect x="1074.5" y="758.3" width="57.2" height="16.1" fill="#E3E3F0" stroke="#2a2a2a" stroke-width="1" />
<rect x="1131.7" y="758.3" width="57.1" height="16.1" fill="#E3E3F0" stroke="#2a2a2a" stroke-width="1" />
<rect x="1074.5" y="774.4" width="57.2" height="16.4" fill="#E3E3F0" stroke="#2a2a2a" stroke-width="1" />
<rect x="1131.7" y="774.4" width="57.1" height="16.4" fill="#E3E3F0" stroke="#2a2a2a" stroke-width="1" />
<rect x="1074.5" y="790.8" width="57.2" height="16.4" fill="#E3E3F0" stroke="#2a2a2a" stroke-width="1" />
<rect x="1131.7" y="790.8" width="57.1" height="16.4" fill="#E3E3F0" stroke="#2a2a2a" stroke-width="1" />
<rect x="1074.5" y="807.2" width="57.2" height="16.2" fill="#E3E3F0" stroke="#2a2a2a" stroke-width="1" />
<rect x="1131.7" y="807.2" width="57.1" height="16.2" fill="#E3E3F0" stroke="#2a2a2a" stroke-width="1" />
<rect x="1074.5" y="823.4" width="57.2" height="16.3" fill="#E3E3F0" stroke="#2a2a2a" stroke-width="1" />
<rect x="1131.7" y="823.4" width="57.1" height="16.3" fill="#E3E3F0" stroke="#2a2a2a" stroke-width="1" />
<rect x="964.1" y="725.8" width="224.7" height="113.9" fill="none" stroke="#2a2a2a" stroke-width="1.2" />
<text x="1027.5" y="736.8" font-size="10.1" textLength="24.5" lengthAdjust="spacingAndGlyphs" class="k" stroke="#222" stroke-width="0.25">3 BHK</text>
<text x="1064.2" y="736.8" font-size="10.1" textLength="62.0" lengthAdjust="spacingAndGlyphs" class="k" stroke="#222" stroke-width="0.25">(FLAT No. - 04)</text>
<text x="1089.5" y="753.5" font-size="10.1" textLength="28.8" lengthAdjust="spacingAndGlyphs" class="k" stroke="#222" stroke-width="0.25">118.30</text>
<text x="1144.7" y="753.5" font-size="10.1" textLength="31.1" lengthAdjust="spacingAndGlyphs" class="k" stroke="#222" stroke-width="0.25">SQ.MT.</text>
<text x="1086.3" y="770.1" font-size="10.1" textLength="33.7" lengthAdjust="spacingAndGlyphs" class="k" stroke="#222" stroke-width="0.25">1273.35</text>
<text x="1147.0" y="770.1" font-size="10.1" textLength="26.7" lengthAdjust="spacingAndGlyphs" class="k" stroke="#222" stroke-width="0.25">SQ.FT.</text>
<text x="1094.2" y="786.2" font-size="10.1" textLength="18.6" lengthAdjust="spacingAndGlyphs" class="k" stroke="#222" stroke-width="0.25">0.00</text>
<text x="1144.7" y="786.2" font-size="10.1" textLength="31.1" lengthAdjust="spacingAndGlyphs" class="k" stroke="#222" stroke-width="0.25">SQ.MT.</text>
<text x="1094.2" y="802.6" font-size="10.1" textLength="18.6" lengthAdjust="spacingAndGlyphs" class="k" stroke="#222" stroke-width="0.25">0.00</text>
<text x="1147.0" y="802.6" font-size="10.1" textLength="26.7" lengthAdjust="spacingAndGlyphs" class="k" stroke="#222" stroke-width="0.25">SQ.FT.</text>
<text x="1094.5" y="819.0" font-size="10.1" textLength="18.0" lengthAdjust="spacingAndGlyphs" class="k" stroke="#222" stroke-width="0.25">5.49</text>
<text x="1144.7" y="819.0" font-size="10.1" textLength="31.1" lengthAdjust="spacingAndGlyphs" class="k" stroke="#222" stroke-width="0.25">SQ.MT.</text>
<text x="1091.7" y="835.2" font-size="10.1" textLength="23.3" lengthAdjust="spacingAndGlyphs" class="k" stroke="#222" stroke-width="0.25">59.00</text>
<text x="1147.0" y="835.2" font-size="10.1" textLength="26.7" lengthAdjust="spacingAndGlyphs" class="k" stroke="#222" stroke-width="0.25">SQ.FT.</text>
<text x="978.3" y="761.3" font-size="10.1" textLength="82.4" lengthAdjust="spacingAndGlyphs" class="k" stroke="#222" stroke-width="0.25">RERA CARPET AREA</text>
<text x="986.2" y="794.0" font-size="10.1" textLength="67.5" lengthAdjust="spacingAndGlyphs" class="k" stroke="#222" stroke-width="0.25">DRY YARD AREA</text>
<text x="975.2" y="826.8" font-size="10.1" textLength="88.6" lengthAdjust="spacingAndGlyphs" class="k" stroke="#222" stroke-width="0.25">FEATURE DECK AREA</text>
</svg>
</body></html>
